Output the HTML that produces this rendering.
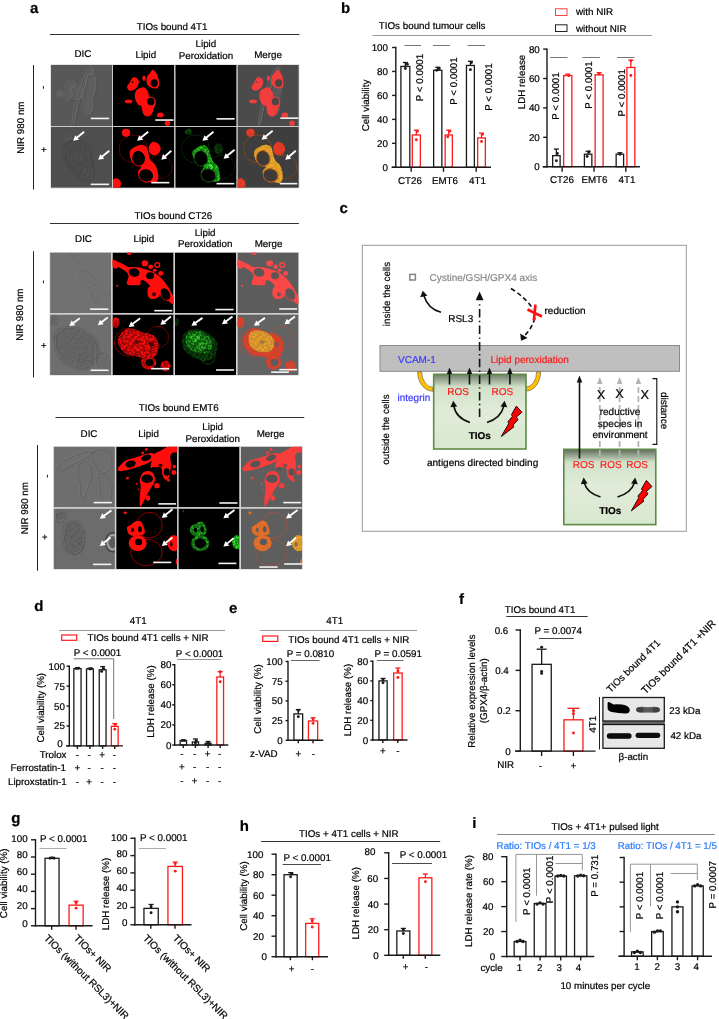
<!DOCTYPE html>
<html><head><meta charset="utf-8"><title>Figure</title>
<style>
html,body{margin:0;padding:0;background:#fff;}
body{width:719px;height:1019px;overflow:hidden;}
svg{display:block;will-change:transform;text-rendering:geometricPrecision;font-family:"Liberation Sans",sans-serif;font-size:9.8px;}
text{stroke-width:0.2px;}
</style></head>
<body>
<svg width="719" height="1019" viewBox="0 0 719 1019">
<rect x="0" y="0" width="719" height="1019" fill="#fff"/>
<defs>
<filter id="blur1" x="-20%" y="-20%" width="140%" height="140%"><feGaussianBlur stdDeviation="0.9"/></filter>
<filter id="bl" x="-10%" y="-10%" width="120%" height="120%"><feGaussianBlur stdDeviation="0.45"/></filter>
<filter id="bl2" x="-10%" y="-10%" width="120%" height="120%"><feGaussianBlur stdDeviation="0.9"/></filter>
<filter id="speck" x="0" y="0" width="100%" height="100%">
<feTurbulence type="fractalNoise" baseFrequency="0.45" numOctaves="3" seed="11" result="n"/>
<feColorMatrix in="n" type="matrix" values="0 0 0 0 0  0 0 0 0 0  0 0 0 0 0  0 0 0 5 -2.2" result="m"/>
<feComposite in="SourceGraphic" in2="m" operator="in" result="c"/>
<feGaussianBlur in="c" stdDeviation="0.35"/>
</filter>
<linearGradient id="gbox" x1="0" y1="0" x2="0" y2="1">
<stop offset="0" stop-color="#6e7c69"/><stop offset="0.17" stop-color="#d2e2ca"/><stop offset="0.5" stop-color="#e0ecd9"/><stop offset="1" stop-color="#d8e7d0"/>
</linearGradient>
<linearGradient id="gbox2" x1="0" y1="0" x2="0" y2="1">
<stop offset="0" stop-color="#5e6a5a"/><stop offset="0.17" stop-color="#d2e2ca"/><stop offset="0.5" stop-color="#e0ecd9"/><stop offset="1" stop-color="#d8e7d0"/>
</linearGradient>
</defs>
<text x="30.00" y="13.20" stroke="#000" font-weight="bold" font-size="15">a</text>
<text x="136.70" y="29.70" stroke="#000">TIOs bound 4T1</text>
<line x1="50.00" y1="34.50" x2="299.40" y2="34.50" stroke="#333" stroke-width="1.0"/>
<text x="82.90" y="57.00" text-anchor="middle" stroke="#000">DIC</text>
<text x="145.80" y="57.50" text-anchor="middle" stroke="#000">Lipid</text>
<text x="205.90" y="46.70" text-anchor="middle" stroke="#000">Lipid</text>
<text x="205.90" y="58.70" text-anchor="middle" stroke="#000">Peroxidation</text>
<text x="268.10" y="57.50" text-anchor="middle" stroke="#000">Merge</text>
<line x1="33.50" y1="65.10" x2="33.50" y2="189.50" stroke="#222" stroke-width="1.0"/>
<text x="0" y="0" text-anchor="middle" stroke="#000" transform="translate(24.10,127.60) rotate(-90)">NIR 980 nm</text>
<text x="0" y="0" text-anchor="middle" stroke="#000" transform="translate(46.30,87.40) rotate(-90)">-</text>
<text x="0" y="0" text-anchor="middle" stroke="#000" transform="translate(46.80,149.70) rotate(-90)">+</text>
<rect x="50.40" y="64.40" width="249.00" height="124.00" fill="#d2d2d2"/>
<clipPath id="clipa00"><rect x="0" y="0" width="61" height="61"/></clipPath>
<g transform="translate(51.00,65.00) scale(1.0049,1.0000)" clip-path="url(#clipa00)">
<rect x="0" y="0" width="61" height="61" fill="#585858"/>
<g filter="url(#bl)"><path d="M40.9 1.7 C42.1 1.4 42.8 2.8 43 4 C43.2 5.2 43.0 8.1 42 9 C41.0 9.9 38.5 7.6 37.3 9.7 C36.1 11.8 35.6 17.9 34.6 21.3 C33.6 24.7 32.2 27.2 31 30.2 C29.8 33.2 28.5 35.4 27.5 39.1 C26.5 42.8 25.6 48.9 24.8 52.4 C24.1 55.9 23.6 59.1 23 60.4 C22.4 61.7 21.0 62.6 21 60 C21.0 57.4 22.0 50.0 23 45 C24.0 40.0 25.5 35.0 27 30 C28.5 25.0 30.5 19.0 32 15 C33.5 11.0 34.5 8.2 36 6 C37.5 3.8 39.7 2.0 40.9 1.7Z" fill="#636363" opacity="0.6"/><path d="M40.9 1.7 L43 4 L42 9 L37.3 9.7 L34.6 21.3 L31 30.2 L27.5 39.1 L24.8 52.4 L23 60.4 L21 60 L23 45 L27 30 L32 15 L36 6Z" fill="none" stroke="#8c8c8c" stroke-width="0.55" opacity="0.55" transform="translate(-0.4,-0.4)" stroke-linejoin="round"/><path d="M40.9 1.7 L43 4 L42 9 L37.3 9.7 L34.6 21.3 L31 30.2 L27.5 39.1 L24.8 52.4 L23 60.4 L21 60 L23 45 L27 30 L32 15 L36 6Z" fill="none" stroke="#2e2e2e" stroke-width="0.55" opacity="0.44000000000000006" transform="translate(0.4,0.4)" stroke-linejoin="round"/><path d="M36.4 10.6 C37.9 7.9 42.0 8.7 43.5 9.7 C45.0 10.7 45.1 14.1 45.3 16.8 C45.4 19.5 45.0 22.7 44.4 25.7 C43.8 28.7 42.0 31.9 41.7 34.6 C41.4 37.3 42.9 39.3 42.6 41.7 C42.3 44.1 41.3 47.4 40 48.9 C38.7 50.4 35.9 51.5 34.6 50.6 C33.3 49.7 32.3 46.2 32 43.5 C31.7 40.8 32.4 37.6 32.8 34.6 C33.2 31.6 34.0 29.7 34.6 25.7 C35.2 21.7 34.9 13.3 36.4 10.6Z" fill="#636363" opacity="0.6"/><path d="M36.4 10.6 L43.5 9.7 L45.3 16.8 L44.4 25.7 L41.7 34.6 L42.6 41.7 L40 48.9 L34.6 50.6 L32 43.5 L32.8 34.6 L34.6 25.7Z" fill="none" stroke="#8c8c8c" stroke-width="0.55" opacity="0.55" transform="translate(-0.4,-0.4)" stroke-linejoin="round"/><path d="M36.4 10.6 L43.5 9.7 L45.3 16.8 L44.4 25.7 L41.7 34.6 L42.6 41.7 L40 48.9 L34.6 50.6 L32 43.5 L32.8 34.6 L34.6 25.7Z" fill="none" stroke="#2e2e2e" stroke-width="0.55" opacity="0.44000000000000006" transform="translate(0.4,0.4)" stroke-linejoin="round"/><path d="M25.7 19.5 C27.4 19.3 29.7 19.7 31 21 C32.3 22.3 33.7 25.3 33.7 27.5 C33.7 29.7 32.3 32.7 31 34 C29.7 35.3 27.4 35.7 25.7 35.5 C23.9 35.3 21.7 34.3 20.5 33 C19.3 31.7 18.5 29.3 18.5 27.5 C18.5 25.7 19.3 23.3 20.5 22 C21.7 20.7 23.9 19.7 25.7 19.5Z" fill="#636363" opacity="0.6"/><path d="M25.7 19.5 L31 21 L33.7 27.5 L31 34 L25.7 35.5 L20.5 33 L18.5 27.5 L20.5 22Z" fill="none" stroke="#8c8c8c" stroke-width="0.55" opacity="0.55" transform="translate(-0.4,-0.4)" stroke-linejoin="round"/><path d="M25.7 19.5 L31 21 L33.7 27.5 L31 34 L25.7 35.5 L20.5 33 L18.5 27.5 L20.5 22Z" fill="none" stroke="#2e2e2e" stroke-width="0.55" opacity="0.44000000000000006" transform="translate(0.4,0.4)" stroke-linejoin="round"/><path d="M16 17 C17.0 15.9 18.7 15.5 20 15.5 C21.3 15.5 23.2 16.1 24 17 C24.8 17.9 25.5 19.8 25 21 C24.5 22.2 21.5 22.5 21 24 C20.5 25.5 22.3 28.2 22 30 C21.7 31.8 20.2 33.8 19 35 C17.8 36.2 16.0 37.3 15 37 C14.0 36.7 13.0 34.5 13 33 C13.0 31.5 14.8 29.8 15 28 C15.2 26.2 13.8 23.8 14 22 C14.2 20.2 15.0 18.1 16 17Z" fill="#636363" opacity="0.6"/><path d="M16 17 L20 15.5 L24 17 L25 21 L21 24 L22 30 L19 35 L15 37 L13 33 L15 28 L14 22Z" fill="none" stroke="#8c8c8c" stroke-width="0.55" opacity="0.55" transform="translate(-0.4,-0.4)" stroke-linejoin="round"/><path d="M16 17 L20 15.5 L24 17 L25 21 L21 24 L22 30 L19 35 L15 37 L13 33 L15 28 L14 22Z" fill="none" stroke="#2e2e2e" stroke-width="0.55" opacity="0.44000000000000006" transform="translate(0.4,0.4)" stroke-linejoin="round"/><ellipse cx="8.8" cy="28.4" rx="3.5" ry="3.5" fill="#6a6a6a" opacity="0.6"/></g>
<rect x="39.6" y="52.65" width="18.199999999999996" height="1.6" fill="#f4f4f4"/>
</g>
<clipPath id="clipa01"><rect x="0" y="0" width="61" height="61"/></clipPath>
<g transform="translate(113.00,65.00) scale(1.0049,1.0000)" clip-path="url(#clipa01)">
<rect x="0" y="0" width="61" height="61" fill="#000"/>
<g filter="url(#bl)"><path d="M39.5 4.8 C40.5 5.0 42.5 7.3 43.5 8.8 C44.5 10.4 44.9 12.3 45.3 14.1 C45.7 15.9 45.9 18.0 45.8 19.5 C45.6 21.0 45.2 22.3 44.4 23 C43.6 23.7 42.1 23.6 40.9 23.5 C39.7 23.4 38.4 22.9 37.3 22.2 C36.2 21.5 34.9 20.7 34.2 19.5 C33.5 18.3 33.2 16.5 33.3 15 C33.4 13.5 33.9 11.8 34.6 10.6 C35.3 9.3 36.5 8.5 37.3 7.5 C38.1 6.5 38.5 4.6 39.5 4.8Z" fill="#ff0d0d"/><ellipse cx="40.9" cy="18.1" rx="3.8" ry="4.1" fill="#000"/><ellipse cx="40.9" cy="18.1" rx="4.1" ry="4.4" fill="none" stroke="#ff0d0d" stroke-width="0.7"/><path d="M19.9 12.4 C20.9 12.2 22.9 12.5 23.9 13.2 C24.9 13.9 25.6 15.5 25.7 16.8 C25.8 18.2 25.0 20.1 24.4 21.3 C23.8 22.5 23.2 23.2 22.2 23.9 C21.1 24.6 19.3 25.6 18.1 25.7 C16.9 25.8 15.7 25.1 15 24.4 C14.3 23.7 13.9 22.4 14.1 21.3 C14.3 20.2 15.7 19.2 16.4 18.1 C17.1 17.0 17.5 15.6 18.1 14.6 C18.7 13.6 18.9 12.6 19.9 12.4Z" fill="#ff0d0d"/><ellipse cx="30.8" cy="13.2" rx="1.6" ry="2.8" fill="#ff0d0d"/><path d="M23 25.7 C24.1 24.3 26.9 23.1 28.4 22.6 C29.9 22.2 30.9 22.2 32 23 C33.1 23.8 34.5 25.9 35.1 27.5 C35.7 29.1 35.6 31.0 35.5 32.8 C35.4 34.6 35.1 36.9 34.2 38.2 C33.3 39.6 31.6 40.6 30.2 40.9 C28.8 41.2 26.9 40.8 25.7 40 C24.5 39.2 23.7 37.9 23 36.4 C22.3 34.9 21.7 32.9 21.7 31.1 C21.7 29.3 21.9 27.1 23 25.7Z" fill="#ff0d0d"/><path d="M28.4 39.1 C28.8 37.6 30.0 35.8 31 34.6 C32.0 33.4 33.3 32.4 34.6 32 C35.9 31.6 37.4 31.7 38.6 32.1 C39.8 32.5 41.0 33.2 41.7 34.2 C42.4 35.2 42.7 36.8 42.6 38.2 C42.5 39.6 41.4 41.1 40.9 42.6 C40.4 44.1 40.1 45.8 39.5 47.1 C38.9 48.4 38.3 49.9 37.3 50.6 C36.3 51.3 34.9 51.8 33.7 51.5 C32.5 51.2 31.0 50.2 30.2 48.9 C29.4 47.6 29.1 45.1 28.8 43.5 C28.5 41.9 28.0 40.6 28.4 39.1Z" fill="#ff0d0d"/><ellipse cx="37.7" cy="36.6" rx="3.8" ry="4" fill="#000"/><ellipse cx="37.7" cy="36.6" rx="4.1" ry="4.3" fill="none" stroke="#ff0d0d" stroke-width="0.6"/><ellipse cx="15.5" cy="36.4" rx="3.8" ry="1.9" fill="#ff0d0d"/><ellipse cx="47.1" cy="49.9" rx="3.4" ry="2.5" fill="#ff0d0d"/><ellipse cx="54.2" cy="58.2" rx="2.7" ry="2.6" fill="#ff0d0d"/><ellipse cx="19.5" cy="17" rx="1" ry="1" fill="#000" opacity="0.7"/></g>
<rect x="42.1" y="54.25" width="18.1" height="1.6" fill="#f4f4f4"/>
</g>
<clipPath id="clipa02"><rect x="0" y="0" width="61" height="61"/></clipPath>
<g transform="translate(175.30,65.00) scale(1.0049,1.0000)" clip-path="url(#clipa02)">
<rect x="0" y="0" width="61" height="61" fill="#000"/>
<rect x="41.0" y="53.05" width="18.1" height="1.6" fill="#f4f4f4"/>
</g>
<clipPath id="clipa03"><rect x="0" y="0" width="61" height="61"/></clipPath>
<g transform="translate(237.50,65.00) scale(1.0049,1.0000)" clip-path="url(#clipa03)">
<rect x="0" y="0" width="61" height="61" fill="#4b4b4b"/>
<g filter="url(#bl)"><path d="M40.9 1.7 C42.1 1.4 42.8 2.8 43 4 C43.2 5.2 43.0 8.1 42 9 C41.0 9.9 38.5 7.6 37.3 9.7 C36.1 11.8 35.6 17.9 34.6 21.3 C33.6 24.7 32.2 27.2 31 30.2 C29.8 33.2 28.5 35.4 27.5 39.1 C26.5 42.8 25.6 48.9 24.8 52.4 C24.1 55.9 23.6 59.1 23 60.4 C22.4 61.7 21.0 62.6 21 60 C21.0 57.4 22.0 50.0 23 45 C24.0 40.0 25.5 35.0 27 30 C28.5 25.0 30.5 19.0 32 15 C33.5 11.0 34.5 8.2 36 6 C37.5 3.8 39.7 2.0 40.9 1.7Z" fill="#636363" opacity="0.6"/><path d="M40.9 1.7 L43 4 L42 9 L37.3 9.7 L34.6 21.3 L31 30.2 L27.5 39.1 L24.8 52.4 L23 60.4 L21 60 L23 45 L27 30 L32 15 L36 6Z" fill="none" stroke="#8c8c8c" stroke-width="0.55" opacity="0.55" transform="translate(-0.4,-0.4)" stroke-linejoin="round"/><path d="M40.9 1.7 L43 4 L42 9 L37.3 9.7 L34.6 21.3 L31 30.2 L27.5 39.1 L24.8 52.4 L23 60.4 L21 60 L23 45 L27 30 L32 15 L36 6Z" fill="none" stroke="#2e2e2e" stroke-width="0.55" opacity="0.44000000000000006" transform="translate(0.4,0.4)" stroke-linejoin="round"/><path d="M36.4 10.6 C37.9 7.9 42.0 8.7 43.5 9.7 C45.0 10.7 45.1 14.1 45.3 16.8 C45.4 19.5 45.0 22.7 44.4 25.7 C43.8 28.7 42.0 31.9 41.7 34.6 C41.4 37.3 42.9 39.3 42.6 41.7 C42.3 44.1 41.3 47.4 40 48.9 C38.7 50.4 35.9 51.5 34.6 50.6 C33.3 49.7 32.3 46.2 32 43.5 C31.7 40.8 32.4 37.6 32.8 34.6 C33.2 31.6 34.0 29.7 34.6 25.7 C35.2 21.7 34.9 13.3 36.4 10.6Z" fill="#636363" opacity="0.6"/><path d="M39.5 4.8 C40.5 5.0 42.5 7.3 43.5 8.8 C44.5 10.4 44.9 12.3 45.3 14.1 C45.7 15.9 45.9 18.0 45.8 19.5 C45.6 21.0 45.2 22.3 44.4 23 C43.6 23.7 42.1 23.6 40.9 23.5 C39.7 23.4 38.4 22.9 37.3 22.2 C36.2 21.5 34.9 20.7 34.2 19.5 C33.5 18.3 33.2 16.5 33.3 15 C33.4 13.5 33.9 11.8 34.6 10.6 C35.3 9.3 36.5 8.5 37.3 7.5 C38.1 6.5 38.5 4.6 39.5 4.8Z" fill="#f23c3c"/><ellipse cx="40.9" cy="18.1" rx="3.8" ry="4.1" fill="#4b4545"/><ellipse cx="40.9" cy="18.1" rx="4.1" ry="4.4" fill="none" stroke="#f23c3c" stroke-width="0.7"/><path d="M19.9 12.4 C20.9 12.2 22.9 12.5 23.9 13.2 C24.9 13.9 25.6 15.5 25.7 16.8 C25.8 18.2 25.0 20.1 24.4 21.3 C23.8 22.5 23.2 23.2 22.2 23.9 C21.1 24.6 19.3 25.6 18.1 25.7 C16.9 25.8 15.7 25.1 15 24.4 C14.3 23.7 13.9 22.4 14.1 21.3 C14.3 20.2 15.7 19.2 16.4 18.1 C17.1 17.0 17.5 15.6 18.1 14.6 C18.7 13.6 18.9 12.6 19.9 12.4Z" fill="#f23c3c"/><ellipse cx="30.8" cy="13.2" rx="1.6" ry="2.8" fill="#f23c3c"/><path d="M23 25.7 C24.1 24.3 26.9 23.1 28.4 22.6 C29.9 22.2 30.9 22.2 32 23 C33.1 23.8 34.5 25.9 35.1 27.5 C35.7 29.1 35.6 31.0 35.5 32.8 C35.4 34.6 35.1 36.9 34.2 38.2 C33.3 39.6 31.6 40.6 30.2 40.9 C28.8 41.2 26.9 40.8 25.7 40 C24.5 39.2 23.7 37.9 23 36.4 C22.3 34.9 21.7 32.9 21.7 31.1 C21.7 29.3 21.9 27.1 23 25.7Z" fill="#f23c3c"/><path d="M28.4 39.1 C28.8 37.6 30.0 35.8 31 34.6 C32.0 33.4 33.3 32.4 34.6 32 C35.9 31.6 37.4 31.7 38.6 32.1 C39.8 32.5 41.0 33.2 41.7 34.2 C42.4 35.2 42.7 36.8 42.6 38.2 C42.5 39.6 41.4 41.1 40.9 42.6 C40.4 44.1 40.1 45.8 39.5 47.1 C38.9 48.4 38.3 49.9 37.3 50.6 C36.3 51.3 34.9 51.8 33.7 51.5 C32.5 51.2 31.0 50.2 30.2 48.9 C29.4 47.6 29.1 45.1 28.8 43.5 C28.5 41.9 28.0 40.6 28.4 39.1Z" fill="#f23c3c"/><ellipse cx="37.7" cy="36.6" rx="3.8" ry="4" fill="#4b4545"/><ellipse cx="37.7" cy="36.6" rx="4.1" ry="4.3" fill="none" stroke="#f23c3c" stroke-width="0.6"/><ellipse cx="15.5" cy="36.4" rx="3.8" ry="1.9" fill="#f23c3c"/><ellipse cx="47.1" cy="49.9" rx="3.4" ry="2.5" fill="#f23c3c"/><ellipse cx="54.2" cy="58.2" rx="2.7" ry="2.6" fill="#f23c3c"/><ellipse cx="19.5" cy="17" rx="1" ry="1" fill="#4b4545" opacity="0.7"/></g>
<rect x="42.6" y="52.35" width="18.1" height="1.6" fill="#f4f4f4"/>
</g>
<clipPath id="clipa10"><rect x="0" y="0" width="61" height="61"/></clipPath>
<g transform="translate(51.00,126.80) scale(1.0049,1.0000)" clip-path="url(#clipa10)">
<rect x="0" y="0" width="61" height="61" fill="#4e4e4e"/>
<g filter="url(#bl)"><path d="M18 14 C20.3 12.7 25.0 11.7 28 12 C31.0 12.3 34.0 14.0 36 16 C38.0 18.0 39.7 21.3 40 24 C40.3 26.7 37.7 29.3 38 32 C38.3 34.7 41.3 37.0 42 40 C42.7 43.0 43.0 47.5 42 50 C41.0 52.5 38.3 54.7 36 55 C33.7 55.3 30.0 53.8 28 52 C26.0 50.2 25.7 46.3 24 44 C22.3 41.7 19.7 40.3 18 38 C16.3 35.7 14.7 33.0 14 30 C13.3 27.0 13.3 22.7 14 20 C14.7 17.3 15.7 15.3 18 14Z" fill="#535353" opacity="0.6"/><path d="M18 14 L28 12 L36 16 L40 24 L38 32 L42 40 L42 50 L36 55 L28 52 L24 44 L18 38 L14 30 L14 20Z" fill="none" stroke="#767676" stroke-width="0.55" opacity="0.5" transform="translate(-0.4,-0.4)" stroke-linejoin="round"/><path d="M18 14 L28 12 L36 16 L40 24 L38 32 L42 40 L42 50 L36 55 L28 52 L24 44 L18 38 L14 30 L14 20Z" fill="none" stroke="#2a2a2a" stroke-width="0.55" opacity="0.4" transform="translate(0.4,0.4)" stroke-linejoin="round"/><path d="M22 24 C23.2 22.3 26.2 21.5 28 22 C29.8 22.5 32.3 25.0 33 27 C33.7 29.0 33.2 32.5 32 34 C30.8 35.5 27.8 36.3 26 36 C24.2 35.7 21.7 34.0 21 32 C20.3 30.0 20.8 25.7 22 24Z" fill="#535353" opacity="0.6"/><path d="M22 24 L28 22 L33 27 L32 34 L26 36 L21 32Z" fill="none" stroke="#767676" stroke-width="0.55" opacity="0.5" transform="translate(-0.4,-0.4)" stroke-linejoin="round"/><path d="M22 24 L28 22 L33 27 L32 34 L26 36 L21 32Z" fill="none" stroke="#2a2a2a" stroke-width="0.55" opacity="0.4" transform="translate(0.4,0.4)" stroke-linejoin="round"/><path d="M28 42 C28.5 40.2 32.2 39.5 34 40 C35.8 40.5 38.5 43.2 39 45 C39.5 46.8 38.3 50.0 37 51 C35.7 52.0 32.5 52.5 31 51 C29.5 49.5 27.5 43.8 28 42Z" fill="#535353" opacity="0.6"/><path d="M28 42 L34 40 L39 45 L37 51 L31 51Z" fill="none" stroke="#767676" stroke-width="0.55" opacity="0.5" transform="translate(-0.4,-0.4)" stroke-linejoin="round"/><path d="M28 42 L34 40 L39 45 L37 51 L31 51Z" fill="none" stroke="#2a2a2a" stroke-width="0.55" opacity="0.4" transform="translate(0.4,0.4)" stroke-linejoin="round"/><path d="M10 8 C11.0 6.5 15.0 4.7 17 5 C19.0 5.3 21.8 8.3 22 10 C22.2 11.7 19.8 14.3 18 15 C16.2 15.7 12.3 15.2 11 14 C9.7 12.8 9.0 9.5 10 8Z" fill="#535353" opacity="0.6"/><path d="M10 8 L17 5 L22 10 L18 15 L11 14Z" fill="none" stroke="#767676" stroke-width="0.55" opacity="0.5" transform="translate(-0.4,-0.4)" stroke-linejoin="round"/><path d="M10 8 L17 5 L22 10 L18 15 L11 14Z" fill="none" stroke="#2a2a2a" stroke-width="0.55" opacity="0.4" transform="translate(0.4,0.4)" stroke-linejoin="round"/></g>
<g filter="url(#bl)" opacity="0.15"><path d="M14 16 C16.0 13.7 20.7 12.3 24 12 C27.3 11.7 31.3 12.3 34 14 C36.7 15.7 38.7 18.7 40 22 C41.3 25.3 41.3 30.0 42 34 C42.7 38.0 44.3 42.7 44 46 C43.7 49.3 42.3 52.7 40 54 C37.7 55.3 33.0 55.3 30 54 C27.0 52.7 24.7 49.0 22 46 C19.3 43.0 15.7 39.3 14 36 C12.3 32.7 12.0 29.3 12 26 C12.0 22.7 12.0 18.3 14 16Z" fill="#3c3c3c"/></g>
<g filter="url(#speck)" opacity="0.3"><path d="M14 16 C16.0 13.7 20.7 12.3 24 12 C27.3 11.7 31.3 12.3 34 14 C36.7 15.7 38.7 18.7 40 22 C41.3 25.3 41.3 30.0 42 34 C42.7 38.0 44.3 42.7 44 46 C43.7 49.3 42.3 52.7 40 54 C37.7 55.3 33.0 55.3 30 54 C27.0 52.7 24.7 49.0 22 46 C19.3 43.0 15.7 39.3 14 36 C12.3 32.7 12.0 29.3 12 26 C12.0 22.7 12.0 18.3 14 16Z" fill="#3c3c3c"/></g>
<line x1="33" y1="5" x2="25.64" y2="11.02" stroke="#fff" stroke-width="1.9"/><path d="M22 14 L24.12 8.39 L27.92 13.03 Z" fill="#fff"/>
<line x1="58" y1="24" x2="50.64" y2="30.02" stroke="#fff" stroke-width="1.9"/><path d="M47 33 L49.12 27.39 L52.92 32.03 Z" fill="#fff"/>
<rect x="39.6" y="56.75" width="18.199999999999996" height="1.6" fill="#f4f4f4"/>
</g>
<clipPath id="clipa11"><rect x="0" y="0" width="61" height="61"/></clipPath>
<g transform="translate(113.00,126.80) scale(1.0049,1.0000)" clip-path="url(#clipa11)">
<rect x="0" y="0" width="61" height="61" fill="#000"/>
<g filter="url(#bl)"><ellipse cx="20" cy="22" rx="14" ry="14" fill="none" stroke="#ff0d0d" stroke-width="0.6" opacity="0.55"/><ellipse cx="47" cy="40" rx="12" ry="12" fill="none" stroke="#ff0d0d" stroke-width="0.6" opacity="0.55"/><ellipse cx="13" cy="6" rx="4.2" ry="4" fill="#ff0d0d"/><path d="M40 15 C41.5 14.7 43.8 15.8 45 17 C46.2 18.2 47.5 20.3 47.5 22 C47.5 23.7 46.2 25.9 45 27 C43.8 28.1 41.5 28.8 40 28.5 C38.5 28.2 36.7 26.6 36 25 C35.3 23.4 35.3 20.7 36 19 C36.7 17.3 38.5 15.3 40 15Z" fill="#ff0d0d"/><ellipse cx="3" cy="57" rx="5" ry="5.5" fill="#ff0d0d"/><path d="M17 24 C17.8 22.3 20.2 21.0 22 20 C23.8 19.0 26.2 18.0 28 18 C29.8 18.0 31.8 18.5 33 20 C34.2 21.5 34.8 24.8 35.5 27 C36.2 29.2 35.9 31.2 37 33 C38.1 34.8 40.8 36.0 42 38 C43.2 40.0 44.0 42.7 44.5 45 C45.0 47.3 45.4 50.2 45 52 C44.6 53.8 43.5 55.5 42 56 C40.5 56.5 38.3 55.7 36 55 C33.7 54.3 29.8 53.7 28 52 C26.2 50.3 25.0 47.0 25 45 C25.0 43.0 28.8 41.5 28 40 C27.2 38.5 21.8 37.7 20 36 C18.2 34.3 17.5 32.0 17 30 C16.5 28.0 16.2 25.7 17 24Z" fill="#ff0d0d"/><ellipse cx="25.5" cy="31.5" rx="6.5" ry="7.5" fill="#000" transform="rotate(-15 25.5 31.5)"/><ellipse cx="25.5" cy="31.5" rx="6.9" ry="7.9" fill="none" stroke="#ff0d0d" stroke-width="0.8" transform="rotate(-15 25.5 31.5)"/><ellipse cx="33" cy="48.5" rx="7.2" ry="6.2" fill="#000" transform="rotate(20 33 48.5)"/><ellipse cx="33" cy="48.5" rx="7.6" ry="6.6" fill="none" stroke="#ff0d0d" stroke-width="0.9" transform="rotate(20 33 48.5)"/></g>
<line x1="35" y1="5" x2="27.64" y2="11.02" stroke="#fff" stroke-width="1.9"/><path d="M24 14 L26.12 8.39 L29.92 13.03 Z" fill="#fff"/>
<line x1="58" y1="24" x2="51.49" y2="29.86" stroke="#fff" stroke-width="1.9"/><path d="M48 33 L49.86 27.29 L53.87 31.75 Z" fill="#fff"/>
<rect x="38.1" y="55.05" width="18.0" height="1.6" fill="#f4f4f4"/>
</g>
<clipPath id="clipa12"><rect x="0" y="0" width="61" height="61"/></clipPath>
<g transform="translate(175.30,126.80) scale(1.0049,1.0000)" clip-path="url(#clipa12)">
<rect x="0" y="0" width="61" height="61" fill="#000"/>
<g filter="url(#bl)" opacity="0.6"><ellipse cx="13" cy="5" rx="3.5" ry="3.2" fill="#0f4a0f"/><ellipse cx="43" cy="22" rx="4.5" ry="5.5" fill="#0f3d0f"/><ellipse cx="20" cy="22" rx="14" ry="14" fill="none" stroke="#0f3d0f" stroke-width="0.6"/><ellipse cx="47" cy="40" rx="12" ry="12" fill="none" stroke="#0f3d0f" stroke-width="0.6"/><path d="M17 25 C17.7 23.4 20.2 21.6 22 20.5 C23.8 19.4 26.3 18.5 28 18.5 C29.7 18.5 30.8 18.9 32 20.5 C33.2 22.1 34.2 25.8 35 28 C35.8 30.2 35.8 32.2 37 34 C38.2 35.8 40.8 37.0 42 39 C43.2 41.0 43.6 43.7 44 46 C44.4 48.3 45.0 51.5 44.5 53 C44.0 54.5 42.4 54.8 41 55 C39.6 55.2 38.2 54.7 36 54 C33.8 53.3 29.7 52.5 28 51 C26.3 49.5 26.0 46.8 26 45 C26.0 43.2 28.8 41.7 28 40 C27.2 38.3 22.7 36.7 21 35 C19.3 33.3 18.7 31.7 18 30 C17.3 28.3 16.3 26.6 17 25Z" fill="#22c81e"/><ellipse cx="25.5" cy="31.5" rx="6.5" ry="7.5" fill="#000" transform="rotate(-15 25.5 31.5)"/><ellipse cx="25.5" cy="31.5" rx="6.9" ry="7.9" fill="none" stroke="#1c7a1c" stroke-width="0.7" transform="rotate(-15 25.5 31.5)"/><ellipse cx="33" cy="48.5" rx="7.2" ry="6.2" fill="#000" transform="rotate(20 33 48.5)"/><ellipse cx="33" cy="48.5" rx="7.6" ry="6.6" fill="none" stroke="#1c7a1c" stroke-width="0.8" transform="rotate(20 33 48.5)"/><ellipse cx="35.5" cy="40" rx="2" ry="2" fill="#5cff4a"/></g>
<g filter="url(#speck)" opacity="1.0"><ellipse cx="13" cy="5" rx="3.5" ry="3.2" fill="#0f4a0f"/><ellipse cx="43" cy="22" rx="4.5" ry="5.5" fill="#0f3d0f"/><ellipse cx="20" cy="22" rx="14" ry="14" fill="none" stroke="#0f3d0f" stroke-width="0.6"/><ellipse cx="47" cy="40" rx="12" ry="12" fill="none" stroke="#0f3d0f" stroke-width="0.6"/><path d="M17 25 C17.7 23.4 20.2 21.6 22 20.5 C23.8 19.4 26.3 18.5 28 18.5 C29.7 18.5 30.8 18.9 32 20.5 C33.2 22.1 34.2 25.8 35 28 C35.8 30.2 35.8 32.2 37 34 C38.2 35.8 40.8 37.0 42 39 C43.2 41.0 43.6 43.7 44 46 C44.4 48.3 45.0 51.5 44.5 53 C44.0 54.5 42.4 54.8 41 55 C39.6 55.2 38.2 54.7 36 54 C33.8 53.3 29.7 52.5 28 51 C26.3 49.5 26.0 46.8 26 45 C26.0 43.2 28.8 41.7 28 40 C27.2 38.3 22.7 36.7 21 35 C19.3 33.3 18.7 31.7 18 30 C17.3 28.3 16.3 26.6 17 25Z" fill="#22c81e"/><ellipse cx="25.5" cy="31.5" rx="6.5" ry="7.5" fill="#000" transform="rotate(-15 25.5 31.5)"/><ellipse cx="25.5" cy="31.5" rx="6.9" ry="7.9" fill="none" stroke="#1c7a1c" stroke-width="0.7" transform="rotate(-15 25.5 31.5)"/><ellipse cx="33" cy="48.5" rx="7.2" ry="6.2" fill="#000" transform="rotate(20 33 48.5)"/><ellipse cx="33" cy="48.5" rx="7.6" ry="6.6" fill="none" stroke="#1c7a1c" stroke-width="0.8" transform="rotate(20 33 48.5)"/><ellipse cx="35.5" cy="40" rx="2" ry="2" fill="#5cff4a"/></g>
<line x1="38" y1="5" x2="30.64" y2="11.02" stroke="#fff" stroke-width="1.9"/><path d="M27 14 L29.12 8.39 L32.92 13.03 Z" fill="#fff"/>
<line x1="59" y1="23" x2="51.64" y2="29.02" stroke="#fff" stroke-width="1.9"/><path d="M48 32 L50.12 26.39 L53.92 31.03 Z" fill="#fff"/>
<rect x="41.0" y="56.05" width="17.700000000000003" height="1.6" fill="#f4f4f4"/>
</g>
<clipPath id="clipa13"><rect x="0" y="0" width="61" height="61"/></clipPath>
<g transform="translate(237.50,126.80) scale(1.0049,1.0000)" clip-path="url(#clipa13)">
<rect x="0" y="0" width="61" height="61" fill="#3e3e3e"/>
<g filter="url(#bl)" opacity="0.85"><ellipse cx="20" cy="22" rx="14" ry="14" fill="none" stroke="#c85a18" stroke-width="0.6" opacity="0.55"/><ellipse cx="47" cy="40" rx="12" ry="12" fill="none" stroke="#c85a18" stroke-width="0.6" opacity="0.55"/><ellipse cx="13" cy="6" rx="4.2" ry="4" fill="#f03a22"/><path d="M40 15 C41.5 14.7 43.8 15.8 45 17 C46.2 18.2 47.5 20.3 47.5 22 C47.5 23.7 46.2 25.9 45 27 C43.8 28.1 41.5 28.8 40 28.5 C38.5 28.2 36.7 26.6 36 25 C35.3 23.4 35.3 20.7 36 19 C36.7 17.3 38.5 15.3 40 15Z" fill="#f03a22"/><ellipse cx="3" cy="57" rx="5" ry="5.5" fill="#f03a22"/><path d="M17 24 C17.8 22.3 20.2 21.0 22 20 C23.8 19.0 26.2 18.0 28 18 C29.8 18.0 31.8 18.5 33 20 C34.2 21.5 34.8 24.8 35.5 27 C36.2 29.2 35.9 31.2 37 33 C38.1 34.8 40.8 36.0 42 38 C43.2 40.0 44.0 42.7 44.5 45 C45.0 47.3 45.4 50.2 45 52 C44.6 53.8 43.5 55.5 42 56 C40.5 56.5 38.3 55.7 36 55 C33.7 54.3 29.8 53.7 28 52 C26.2 50.3 25.0 47.0 25 45 C25.0 43.0 28.8 41.5 28 40 C27.2 38.5 21.8 37.7 20 36 C18.2 34.3 17.5 32.0 17 30 C16.5 28.0 16.2 25.7 17 24Z" fill="#f0a825"/><ellipse cx="25.5" cy="31.5" rx="6.5" ry="7.5" fill="#3c3a38" transform="rotate(-15 25.5 31.5)"/><ellipse cx="25.5" cy="31.5" rx="6.9" ry="7.9" fill="none" stroke="#c85a18" stroke-width="0.8" transform="rotate(-15 25.5 31.5)"/><ellipse cx="33" cy="48.5" rx="7.2" ry="6.2" fill="#3c3a38" transform="rotate(20 33 48.5)"/><ellipse cx="33" cy="48.5" rx="7.6" ry="6.6" fill="none" stroke="#c85a18" stroke-width="0.9" transform="rotate(20 33 48.5)"/></g>
<g filter="url(#speck)" opacity="1.0"><ellipse cx="20" cy="22" rx="14" ry="14" fill="none" stroke="#c85a18" stroke-width="0.6" opacity="0.55"/><ellipse cx="47" cy="40" rx="12" ry="12" fill="none" stroke="#c85a18" stroke-width="0.6" opacity="0.55"/><ellipse cx="13" cy="6" rx="4.2" ry="4" fill="#f03a22"/><path d="M40 15 C41.5 14.7 43.8 15.8 45 17 C46.2 18.2 47.5 20.3 47.5 22 C47.5 23.7 46.2 25.9 45 27 C43.8 28.1 41.5 28.8 40 28.5 C38.5 28.2 36.7 26.6 36 25 C35.3 23.4 35.3 20.7 36 19 C36.7 17.3 38.5 15.3 40 15Z" fill="#f03a22"/><ellipse cx="3" cy="57" rx="5" ry="5.5" fill="#f03a22"/><path d="M17 24 C17.8 22.3 20.2 21.0 22 20 C23.8 19.0 26.2 18.0 28 18 C29.8 18.0 31.8 18.5 33 20 C34.2 21.5 34.8 24.8 35.5 27 C36.2 29.2 35.9 31.2 37 33 C38.1 34.8 40.8 36.0 42 38 C43.2 40.0 44.0 42.7 44.5 45 C45.0 47.3 45.4 50.2 45 52 C44.6 53.8 43.5 55.5 42 56 C40.5 56.5 38.3 55.7 36 55 C33.7 54.3 29.8 53.7 28 52 C26.2 50.3 25.0 47.0 25 45 C25.0 43.0 28.8 41.5 28 40 C27.2 38.5 21.8 37.7 20 36 C18.2 34.3 17.5 32.0 17 30 C16.5 28.0 16.2 25.7 17 24Z" fill="#f0a825"/><ellipse cx="25.5" cy="31.5" rx="6.5" ry="7.5" fill="#3c3a38" transform="rotate(-15 25.5 31.5)"/><ellipse cx="25.5" cy="31.5" rx="6.9" ry="7.9" fill="none" stroke="#c85a18" stroke-width="0.8" transform="rotate(-15 25.5 31.5)"/><ellipse cx="33" cy="48.5" rx="7.2" ry="6.2" fill="#3c3a38" transform="rotate(20 33 48.5)"/><ellipse cx="33" cy="48.5" rx="7.6" ry="6.6" fill="none" stroke="#c85a18" stroke-width="0.9" transform="rotate(20 33 48.5)"/></g>
<line x1="35" y1="4" x2="27.64" y2="10.02" stroke="#fff" stroke-width="1.9"/><path d="M24 13 L26.12 7.39 L29.92 12.03 Z" fill="#fff"/>
<line x1="58" y1="24" x2="51.07" y2="29.94" stroke="#fff" stroke-width="1.9"/><path d="M47.5 33 L49.50 27.34 L53.40 31.89 Z" fill="#fff"/>
<rect x="42.0" y="56.05" width="17.5" height="1.6" fill="#f4f4f4"/>
</g>
<text x="134.40" y="218.60" stroke="#000">TIOs bound CT26</text>
<line x1="50.00" y1="223.50" x2="298.90" y2="223.50" stroke="#333" stroke-width="1.0"/>
<text x="83.50" y="242.00" text-anchor="middle" stroke="#000">DIC</text>
<text x="143.90" y="242.00" text-anchor="middle" stroke="#000">Lipid</text>
<text x="205.20" y="236.20" text-anchor="middle" stroke="#000">Lipid</text>
<text x="205.20" y="247.40" text-anchor="middle" stroke="#000">Peroxidation</text>
<text x="268.60" y="246.90" text-anchor="middle" stroke="#000">Merge</text>
<line x1="33.50" y1="251.20" x2="33.50" y2="377.50" stroke="#222" stroke-width="1.0"/>
<text x="0" y="0" text-anchor="middle" stroke="#000" transform="translate(23.10,314.60) rotate(-90)">NIR 980 nm</text>
<text x="0" y="0" text-anchor="middle" stroke="#000" transform="translate(46.10,281.80) rotate(-90)">-</text>
<text x="0" y="0" text-anchor="middle" stroke="#000" transform="translate(46.90,345.50) rotate(-90)">+</text>
<rect x="49.50" y="252.00" width="249.60" height="123.60" fill="#d2d2d2"/>
<clipPath id="clipb00"><rect x="0" y="0" width="61" height="61"/></clipPath>
<g transform="translate(50.10,252.60) scale(1.0016,0.9934)" clip-path="url(#clipb00)">
<rect x="0" y="0" width="61" height="61" fill="#717171"/>
<g filter="url(#bl)"><path d="M20 0 L30 18 L38 28 L50 38 L61 44Z" fill="none" stroke="#8e8e8e" stroke-width="0.55" opacity="0.5" transform="translate(-0.4,-0.4)" stroke-linejoin="round"/><path d="M20 0 L30 18 L38 28 L50 38 L61 44Z" fill="none" stroke="#3a3a3a" stroke-width="0.55" opacity="0.4" transform="translate(0.4,0.4)" stroke-linejoin="round"/><path d="M28 20 L34 17 L42 24 L44 32 L38 34 L32 28Z" fill="none" stroke="#8e8e8e" stroke-width="0.55" opacity="0.5" transform="translate(-0.4,-0.4)" stroke-linejoin="round"/><path d="M28 20 L34 17 L42 24 L44 32 L38 34 L32 28Z" fill="none" stroke="#3a3a3a" stroke-width="0.55" opacity="0.4" transform="translate(0.4,0.4)" stroke-linejoin="round"/><path d="M40 40 L44 36 L48 44 L44 50Z" fill="none" stroke="#8e8e8e" stroke-width="0.55" opacity="0.5" transform="translate(-0.4,-0.4)" stroke-linejoin="round"/><path d="M40 40 L44 36 L48 44 L44 50Z" fill="none" stroke="#3a3a3a" stroke-width="0.55" opacity="0.4" transform="translate(0.4,0.4)" stroke-linejoin="round"/></g>
<rect x="39.9" y="56.15" width="18.200000000000003" height="1.6" fill="#f4f4f4"/>
</g>
<clipPath id="clipb01"><rect x="0" y="0" width="61" height="61"/></clipPath>
<g transform="translate(112.50,252.60) scale(1.0016,0.9934)" clip-path="url(#clipb01)">
<rect x="0" y="0" width="61" height="61" fill="#000"/>
<g filter="url(#bl)"><path d="M-1 6.7 C-0.2 6.0 2.1 7.7 4 8.5 C5.9 9.3 8.5 10.6 10.5 11.6 C12.5 12.6 14.1 14.1 15.8 14.6 C17.6 15.1 19.2 14.5 21 14.6 C22.8 14.7 24.4 14.7 26.5 15.1 C28.6 15.5 31.2 16.1 33.6 16.9 C36.0 17.6 38.3 18.3 40.7 19.6 C43.1 20.9 45.8 23.0 47.9 24.9 C50.0 26.8 51.6 28.9 53.2 31.1 C54.8 33.3 56.4 35.9 57.7 38.3 C59.0 40.7 60.5 43.1 61 45.4 C61.5 47.7 61.9 51.4 61 52 C60.1 52.6 57.8 50.2 55.9 49 C54.0 47.8 51.5 46.0 49.6 44.5 C47.7 43.0 46.1 41.5 44.3 40 C42.5 38.5 40.5 37.1 39 35.6 C37.5 34.1 36.9 32.4 35.4 31.1 C33.9 29.8 31.5 27.8 30.1 27.6 C28.7 27.4 28.0 29.2 27 30 C26.0 30.8 25.5 32.1 24 32.5 C22.5 32.9 19.5 33.1 18 32.5 C16.5 31.9 15.3 30.4 15 29 C14.7 27.6 16.2 25.6 16 24 C15.8 22.4 15.2 20.9 14 19.6 C12.8 18.3 10.5 17.1 8.7 16 C6.9 14.9 4.9 13.9 3.3 13.3 C1.7 12.7 -0.3 13.5 -1 12.4 C-1.7 11.3 -1.8 7.4 -1 6.7Z" fill="#ff0d0d"/><ellipse cx="2.9" cy="12.9" rx="3.1" ry="3.1" fill="#ff0d0d"/><ellipse cx="21.6" cy="20" rx="5.6" ry="4.4" fill="#000" transform="rotate(15 21.6 20)"/><ellipse cx="21.6" cy="20" rx="5.9" ry="4.7" fill="none" stroke="#ff0d0d" stroke-width="0.6" transform="rotate(15 21.6 20)"/><ellipse cx="37.6" cy="23.3" rx="4" ry="3.5" fill="#000"/><ellipse cx="52.8" cy="41.8" rx="4.5" ry="6.5" fill="#000" transform="rotate(-30 52.8 41.8)"/><ellipse cx="52.8" cy="41.8" rx="4.8" ry="6.8" fill="none" stroke="#ff0d0d" stroke-width="0.7" transform="rotate(-30 52.8 41.8)"/><path d="M36 35 C37.0 33.7 39.5 33.5 41 34 C42.5 34.5 44.0 36.5 45 38 C46.0 39.5 47.2 41.7 47 43 C46.8 44.3 45.5 45.4 44 46 C42.5 46.6 39.5 47.2 38 46.5 C36.5 45.8 35.3 43.9 35 42 C34.7 40.1 35.0 36.3 36 35Z" fill="#ff0d0d"/><ellipse cx="41.5" cy="42" rx="2" ry="2" fill="#000" opacity="0.8"/><ellipse cx="16.7" cy="30.3" rx="2.5" ry="2.5" fill="#ff0d0d"/><ellipse cx="25.6" cy="30.7" rx="2.6" ry="2.3" fill="#ff0d0d"/><ellipse cx="32.3" cy="10.7" rx="3.3" ry="3.1" fill="#ff0d0d"/><ellipse cx="38.1" cy="14.2" rx="2.5" ry="2.3" fill="#ff0d0d"/><ellipse cx="44.7" cy="12.4" rx="2.3" ry="2.3" fill="none" stroke="#ff0d0d" stroke-width="1.4"/><ellipse cx="48.3" cy="20.9" rx="2.5" ry="2.5" fill="#ff0d0d"/><ellipse cx="42.1" cy="17.8" rx="2" ry="1.6" fill="#ff0d0d"/><ellipse cx="16.7" cy="0.4" rx="2.5" ry="2" fill="#ff0d0d"/><ellipse cx="4.7" cy="33.4" rx="1" ry="1" fill="#ff0d0d"/></g>
<rect x="41.7" y="57.65" width="18.0" height="1.6" fill="#f4f4f4"/>
</g>
<clipPath id="clipb02"><rect x="0" y="0" width="61" height="61"/></clipPath>
<g transform="translate(174.90,252.60) scale(1.0016,0.9934)" clip-path="url(#clipb02)">
<rect x="0" y="0" width="61" height="61" fill="#000"/>
<rect x="40.4" y="56.55" width="18.200000000000003" height="1.6" fill="#f4f4f4"/>
</g>
<clipPath id="clipb03"><rect x="0" y="0" width="61" height="61"/></clipPath>
<g transform="translate(237.40,252.60) scale(1.0016,0.9934)" clip-path="url(#clipb03)">
<rect x="0" y="0" width="61" height="61" fill="#5c5c5c"/>
<g filter="url(#bl)"><path d="M-1 6.7 C-0.2 6.0 2.1 7.7 4 8.5 C5.9 9.3 8.5 10.6 10.5 11.6 C12.5 12.6 14.1 14.1 15.8 14.6 C17.6 15.1 19.2 14.5 21 14.6 C22.8 14.7 24.4 14.7 26.5 15.1 C28.6 15.5 31.2 16.1 33.6 16.9 C36.0 17.6 38.3 18.3 40.7 19.6 C43.1 20.9 45.8 23.0 47.9 24.9 C50.0 26.8 51.6 28.9 53.2 31.1 C54.8 33.3 56.4 35.9 57.7 38.3 C59.0 40.7 60.5 43.1 61 45.4 C61.5 47.7 61.9 51.4 61 52 C60.1 52.6 57.8 50.2 55.9 49 C54.0 47.8 51.5 46.0 49.6 44.5 C47.7 43.0 46.1 41.5 44.3 40 C42.5 38.5 40.5 37.1 39 35.6 C37.5 34.1 36.9 32.4 35.4 31.1 C33.9 29.8 31.5 27.8 30.1 27.6 C28.7 27.4 28.0 29.2 27 30 C26.0 30.8 25.5 32.1 24 32.5 C22.5 32.9 19.5 33.1 18 32.5 C16.5 31.9 15.3 30.4 15 29 C14.7 27.6 16.2 25.6 16 24 C15.8 22.4 15.2 20.9 14 19.6 C12.8 18.3 10.5 17.1 8.7 16 C6.9 14.9 4.9 13.9 3.3 13.3 C1.7 12.7 -0.3 13.5 -1 12.4 C-1.7 11.3 -1.8 7.4 -1 6.7Z" fill="#fa4646"/><ellipse cx="2.9" cy="12.9" rx="3.1" ry="3.1" fill="#fa4646"/><ellipse cx="21.6" cy="20" rx="5.6" ry="4.4" fill="#5c5454" transform="rotate(15 21.6 20)"/><ellipse cx="21.6" cy="20" rx="5.9" ry="4.7" fill="none" stroke="#fa4646" stroke-width="0.6" transform="rotate(15 21.6 20)"/><ellipse cx="37.6" cy="23.3" rx="4" ry="3.5" fill="#5c5454"/><ellipse cx="52.8" cy="41.8" rx="4.5" ry="6.5" fill="#5c5454" transform="rotate(-30 52.8 41.8)"/><ellipse cx="52.8" cy="41.8" rx="4.8" ry="6.8" fill="none" stroke="#fa4646" stroke-width="0.7" transform="rotate(-30 52.8 41.8)"/><path d="M36 35 C37.0 33.7 39.5 33.5 41 34 C42.5 34.5 44.0 36.5 45 38 C46.0 39.5 47.2 41.7 47 43 C46.8 44.3 45.5 45.4 44 46 C42.5 46.6 39.5 47.2 38 46.5 C36.5 45.8 35.3 43.9 35 42 C34.7 40.1 35.0 36.3 36 35Z" fill="#fa4646"/><ellipse cx="41.5" cy="42" rx="2" ry="2" fill="#5c5454" opacity="0.8"/><ellipse cx="16.7" cy="30.3" rx="2.5" ry="2.5" fill="#fa4646"/><ellipse cx="25.6" cy="30.7" rx="2.6" ry="2.3" fill="#fa4646"/><ellipse cx="32.3" cy="10.7" rx="3.3" ry="3.1" fill="#fa4646"/><ellipse cx="38.1" cy="14.2" rx="2.5" ry="2.3" fill="#fa4646"/><ellipse cx="44.7" cy="12.4" rx="2.3" ry="2.3" fill="none" stroke="#fa4646" stroke-width="1.4"/><ellipse cx="48.3" cy="20.9" rx="2.5" ry="2.5" fill="#fa4646"/><ellipse cx="42.1" cy="17.8" rx="2" ry="1.6" fill="#fa4646"/><ellipse cx="16.7" cy="0.4" rx="2.5" ry="2" fill="#fa4646"/><ellipse cx="4.7" cy="33.4" rx="1" ry="1" fill="#fa4646"/></g>
<rect x="41.8" y="55.95" width="17.800000000000004" height="1.6" fill="#f4f4f4"/>
</g>
<clipPath id="clipb10"><rect x="0" y="0" width="61" height="61"/></clipPath>
<g transform="translate(50.10,314.40) scale(1.0016,0.9934)" clip-path="url(#clipb10)">
<rect x="0" y="0" width="61" height="61" fill="#6e6e6e"/>
<g filter="url(#bl)"><path d="M6 20 C7.3 16.7 11.0 15.0 14 14 C17.0 13.0 21.0 13.3 24 14 C27.0 14.7 29.3 16.7 32 18 C34.7 19.3 37.7 20.0 40 22 C42.3 24.0 45.0 27.0 46 30 C47.0 33.0 47.0 37.3 46 40 C45.0 42.7 42.3 44.7 40 46 C37.7 47.3 35.0 48.0 32 48 C29.0 48.0 25.3 47.0 22 46 C18.7 45.0 14.7 44.0 12 42 C9.3 40.0 7.0 37.7 6 34 C5.0 30.3 4.7 23.3 6 20Z" fill="#676767" opacity="0.6"/><path d="M6 20 L14 14 L24 14 L32 18 L40 22 L46 30 L46 40 L40 46 L32 48 L22 46 L12 42 L6 34Z" fill="none" stroke="#8e8e8e" stroke-width="0.55" opacity="0.6" transform="translate(-0.4,-0.4)" stroke-linejoin="round"/><path d="M6 20 L14 14 L24 14 L32 18 L40 22 L46 30 L46 40 L40 46 L32 48 L22 46 L12 42 L6 34Z" fill="none" stroke="#3e3e3e" stroke-width="0.55" opacity="0.48" transform="translate(0.4,0.4)" stroke-linejoin="round"/><path d="M28 40 C29.5 38.3 33.7 37.3 36 38 C38.3 38.7 41.3 41.7 42 44 C42.7 46.3 41.7 50.3 40 52 C38.3 53.7 34.2 54.7 32 54 C29.8 53.3 27.7 50.3 27 48 C26.3 45.7 26.5 41.7 28 40Z" fill="#676767" opacity="0.6"/><path d="M28 40 L36 38 L42 44 L40 52 L32 54 L27 48Z" fill="none" stroke="#8e8e8e" stroke-width="0.55" opacity="0.6" transform="translate(-0.4,-0.4)" stroke-linejoin="round"/><path d="M28 40 L36 38 L42 44 L40 52 L32 54 L27 48Z" fill="none" stroke="#3e3e3e" stroke-width="0.55" opacity="0.48" transform="translate(0.4,0.4)" stroke-linejoin="round"/><path d="M46 40 C47.3 38.0 51.7 37.3 54 38 C56.3 38.7 59.3 41.3 60 44 C60.7 46.7 59.7 52.0 58 54 C56.3 56.0 52.0 56.7 50 56 C48.0 55.3 46.7 52.7 46 50 C45.3 47.3 44.7 42.0 46 40Z" fill="#676767" opacity="0.6"/><path d="M46 40 L54 38 L60 44 L58 54 L50 56 L46 50Z" fill="none" stroke="#8e8e8e" stroke-width="0.55" opacity="0.6" transform="translate(-0.4,-0.4)" stroke-linejoin="round"/><path d="M46 40 L54 38 L60 44 L58 54 L50 56 L46 50Z" fill="none" stroke="#3e3e3e" stroke-width="0.55" opacity="0.48" transform="translate(0.4,0.4)" stroke-linejoin="round"/></g>
<g filter="url(#bl)" opacity="0.15"><path d="M4 18 C5.8 15.3 10.3 13.0 14 12 C17.7 11.0 22.3 11.3 26 12 C29.7 12.7 32.7 14.0 36 16 C39.3 18.0 43.7 21.0 46 24 C48.3 27.0 49.7 30.3 50 34 C50.3 37.7 49.7 42.7 48 46 C46.3 49.3 43.3 52.3 40 54 C36.7 55.7 32.3 56.7 28 56 C23.7 55.3 17.7 52.7 14 50 C10.3 47.3 7.8 43.7 6 40 C4.2 36.3 3.3 31.7 3 28 C2.7 24.3 2.2 20.7 4 18Z" fill="#505050"/><ellipse cx="4" cy="6" rx="5" ry="6" fill="#555555"/></g>
<g filter="url(#speck)" opacity="0.3"><path d="M4 18 C5.8 15.3 10.3 13.0 14 12 C17.7 11.0 22.3 11.3 26 12 C29.7 12.7 32.7 14.0 36 16 C39.3 18.0 43.7 21.0 46 24 C48.3 27.0 49.7 30.3 50 34 C50.3 37.7 49.7 42.7 48 46 C46.3 49.3 43.3 52.3 40 54 C36.7 55.7 32.3 56.7 28 56 C23.7 55.3 17.7 52.7 14 50 C10.3 47.3 7.8 43.7 6 40 C4.2 36.3 3.3 31.7 3 28 C2.7 24.3 2.2 20.7 4 18Z" fill="#505050"/><ellipse cx="4" cy="6" rx="5" ry="6" fill="#555555"/></g>
<line x1="29.6" y1="3.9" x2="22.87" y2="8.90" stroke="#fff" stroke-width="1.9"/><path d="M19.1 11.7 L21.49 6.19 L25.06 11.01 Z" fill="#fff"/>
<line x1="57.6" y1="3" x2="51.29" y2="7.99" stroke="#fff" stroke-width="1.9"/><path d="M47.6 10.9 L49.82 5.32 L53.54 10.03 Z" fill="#fff"/>
<rect x="40.5" y="55.45" width="17.9" height="1.6" fill="#f4f4f4"/>
</g>
<clipPath id="clipb11"><rect x="0" y="0" width="61" height="61"/></clipPath>
<g transform="translate(112.50,314.40) scale(1.0016,0.9934)" clip-path="url(#clipb11)">
<rect x="0" y="0" width="61" height="61" fill="#000"/>
<g filter="url(#bl)" opacity="0.6"><ellipse cx="16" cy="28" rx="14" ry="14" fill="none" stroke="#ff0d0d" stroke-width="0.7" opacity="0.8"/><ellipse cx="45" cy="23" rx="11" ry="11" fill="none" stroke="#ff0d0d" stroke-width="0.6" opacity="0.7"/><path d="M8 20 C9.5 18.0 11.7 15.8 14 15 C16.3 14.2 19.3 14.5 22 15 C24.7 15.5 27.3 17.2 30 18 C32.7 18.8 35.7 19.0 38 20 C40.3 21.0 42.7 22.0 44 24 C45.3 26.0 46.0 29.3 46 32 C46.0 34.7 45.0 38.0 44 40 C43.0 42.0 41.3 43.0 40 44 C38.7 45.0 37.7 46.0 36 46 C34.3 46.0 32.3 44.7 30 44 C27.7 43.3 24.7 42.7 22 42 C19.3 41.3 16.3 41.3 14 40 C11.7 38.7 9.5 36.2 8 34 C6.5 31.8 5.0 29.3 5 27 C5.0 24.7 6.5 22.0 8 20Z" fill="#ff0d0d" opacity="0.95"/><path d="M12 20 C13.0 17.7 15.7 16.5 18 16 C20.3 15.5 23.5 16.2 26 17 C28.5 17.8 31.2 19.2 33 21 C34.8 22.8 36.8 25.5 37 28 C37.2 30.5 35.8 34.3 34 36 C32.2 37.7 28.7 38.0 26 38 C23.3 38.0 20.3 37.3 18 36 C15.7 34.7 13.0 32.7 12 30 C11.0 27.3 11.0 22.3 12 20Z" fill="#ff0d0d"/><ellipse cx="36" cy="48.5" rx="7.5" ry="7" fill="#ff0d0d"/><ellipse cx="37" cy="48.5" rx="4" ry="3.5" fill="#000"/><ellipse cx="53" cy="52" rx="5" ry="5.5" fill="#ff0d0d"/><ellipse cx="3" cy="8" rx="4" ry="5.5" fill="#ff0d0d"/><ellipse cx="39" cy="30" rx="2.5" ry="2.5" fill="#000" opacity="0.6"/><ellipse cx="25" cy="28" rx="2.5" ry="2" fill="#000" opacity="0.4"/></g>
<g filter="url(#speck)" opacity="1.0"><ellipse cx="16" cy="28" rx="14" ry="14" fill="none" stroke="#ff0d0d" stroke-width="0.7" opacity="0.8"/><ellipse cx="45" cy="23" rx="11" ry="11" fill="none" stroke="#ff0d0d" stroke-width="0.6" opacity="0.7"/><path d="M8 20 C9.5 18.0 11.7 15.8 14 15 C16.3 14.2 19.3 14.5 22 15 C24.7 15.5 27.3 17.2 30 18 C32.7 18.8 35.7 19.0 38 20 C40.3 21.0 42.7 22.0 44 24 C45.3 26.0 46.0 29.3 46 32 C46.0 34.7 45.0 38.0 44 40 C43.0 42.0 41.3 43.0 40 44 C38.7 45.0 37.7 46.0 36 46 C34.3 46.0 32.3 44.7 30 44 C27.7 43.3 24.7 42.7 22 42 C19.3 41.3 16.3 41.3 14 40 C11.7 38.7 9.5 36.2 8 34 C6.5 31.8 5.0 29.3 5 27 C5.0 24.7 6.5 22.0 8 20Z" fill="#ff0d0d" opacity="0.95"/><path d="M12 20 C13.0 17.7 15.7 16.5 18 16 C20.3 15.5 23.5 16.2 26 17 C28.5 17.8 31.2 19.2 33 21 C34.8 22.8 36.8 25.5 37 28 C37.2 30.5 35.8 34.3 34 36 C32.2 37.7 28.7 38.0 26 38 C23.3 38.0 20.3 37.3 18 36 C15.7 34.7 13.0 32.7 12 30 C11.0 27.3 11.0 22.3 12 20Z" fill="#ff0d0d"/><ellipse cx="36" cy="48.5" rx="7.5" ry="7" fill="#ff0d0d"/><ellipse cx="37" cy="48.5" rx="4" ry="3.5" fill="#000"/><ellipse cx="53" cy="52" rx="5" ry="5.5" fill="#ff0d0d"/><ellipse cx="3" cy="8" rx="4" ry="5.5" fill="#ff0d0d"/><ellipse cx="39" cy="30" rx="2.5" ry="2.5" fill="#000" opacity="0.6"/><ellipse cx="25" cy="28" rx="2.5" ry="2" fill="#000" opacity="0.4"/></g>
<line x1="27.6" y1="3.9" x2="19.94" y2="9.75" stroke="#fff" stroke-width="1.9"/><path d="M16.2 12.6 L18.51 7.06 L22.15 11.83 Z" fill="#fff"/>
<line x1="58.3" y1="2.1" x2="51.47" y2="7.56" stroke="#fff" stroke-width="1.9"/><path d="M47.8 10.5 L49.99 4.91 L53.73 9.59 Z" fill="#fff"/>
<rect x="38.6" y="53.85" width="17.799999999999997" height="1.6" fill="#f4f4f4"/>
</g>
<clipPath id="clipb12"><rect x="0" y="0" width="61" height="61"/></clipPath>
<g transform="translate(174.90,314.40) scale(1.0016,0.9934)" clip-path="url(#clipb12)">
<rect x="0" y="0" width="61" height="61" fill="#000"/>
<g filter="url(#bl)" opacity="0.5"><ellipse cx="1.5" cy="8" rx="2.5" ry="4" fill="#0b3a0b"/><path d="M8 22 C9.0 19.2 11.7 17.2 14 16 C16.3 14.8 19.3 14.8 22 15 C24.7 15.2 27.5 15.8 30 17 C32.5 18.2 35.0 20.2 37 22 C39.0 23.8 41.2 25.7 42 28 C42.8 30.3 42.7 33.3 42 36 C41.3 38.7 40.0 42.2 38 44 C36.0 45.8 32.7 46.8 30 47 C27.3 47.2 24.7 46.2 22 45 C19.3 43.8 16.3 42.0 14 40 C11.7 38.0 9.0 36.0 8 33 C7.0 30.0 7.0 24.8 8 22Z" fill="#0c4a0c"/><path d="M11 22 C12.0 20.0 14.7 17.8 17 17 C19.3 16.2 22.5 16.3 25 17 C27.5 17.7 30.0 19.3 32 21 C34.0 22.7 36.3 24.7 37 27 C37.7 29.3 37.2 33.0 36 35 C34.8 37.0 32.3 38.5 30 39 C27.7 39.5 24.5 38.7 22 38 C19.5 37.3 16.8 36.5 15 35 C13.2 33.5 11.7 31.2 11 29 C10.3 26.8 10.0 24.0 11 22Z" fill="#1f9a1c"/><ellipse cx="20" cy="24" rx="5" ry="4" fill="#2fd52a" opacity="0.9"/><ellipse cx="27" cy="31" rx="4" ry="4" fill="#2bc427" opacity="0.9"/><ellipse cx="35" cy="28" rx="2" ry="2.5" fill="#2bc427"/><ellipse cx="33" cy="43" rx="7" ry="7" fill="none" stroke="#0f4a0f" stroke-width="1.2"/></g>
<g filter="url(#speck)" opacity="1.0"><ellipse cx="1.5" cy="8" rx="2.5" ry="4" fill="#0b3a0b"/><path d="M8 22 C9.0 19.2 11.7 17.2 14 16 C16.3 14.8 19.3 14.8 22 15 C24.7 15.2 27.5 15.8 30 17 C32.5 18.2 35.0 20.2 37 22 C39.0 23.8 41.2 25.7 42 28 C42.8 30.3 42.7 33.3 42 36 C41.3 38.7 40.0 42.2 38 44 C36.0 45.8 32.7 46.8 30 47 C27.3 47.2 24.7 46.2 22 45 C19.3 43.8 16.3 42.0 14 40 C11.7 38.0 9.0 36.0 8 33 C7.0 30.0 7.0 24.8 8 22Z" fill="#0c4a0c"/><path d="M11 22 C12.0 20.0 14.7 17.8 17 17 C19.3 16.2 22.5 16.3 25 17 C27.5 17.7 30.0 19.3 32 21 C34.0 22.7 36.3 24.7 37 27 C37.7 29.3 37.2 33.0 36 35 C34.8 37.0 32.3 38.5 30 39 C27.7 39.5 24.5 38.7 22 38 C19.5 37.3 16.8 36.5 15 35 C13.2 33.5 11.7 31.2 11 29 C10.3 26.8 10.0 24.0 11 22Z" fill="#1f9a1c"/><ellipse cx="20" cy="24" rx="5" ry="4" fill="#2fd52a" opacity="0.9"/><ellipse cx="27" cy="31" rx="4" ry="4" fill="#2bc427" opacity="0.9"/><ellipse cx="35" cy="28" rx="2" ry="2.5" fill="#2bc427"/><ellipse cx="33" cy="43" rx="7" ry="7" fill="none" stroke="#0f4a0f" stroke-width="1.2"/></g>
<line x1="27.5" y1="3.5" x2="20.30" y2="8.74" stroke="#fff" stroke-width="1.9"/><path d="M16.5 11.5 L18.94 6.02 L22.47 10.87 Z" fill="#fff"/>
<line x1="57.5" y1="2" x2="50.74" y2="7.15" stroke="#fff" stroke-width="1.9"/><path d="M47 10 L49.32 4.46 L52.95 9.23 Z" fill="#fff"/>
<rect x="41.1" y="55.15" width="18.0" height="1.6" fill="#f4f4f4"/>
</g>
<clipPath id="clipb13"><rect x="0" y="0" width="61" height="61"/></clipPath>
<g transform="translate(237.40,314.40) scale(1.0016,0.9934)" clip-path="url(#clipb13)">
<rect x="0" y="0" width="61" height="61" fill="#636363"/>
<g filter="url(#bl)" opacity="0.7"><ellipse cx="16" cy="28" rx="14" ry="14" fill="none" stroke="#e04030" stroke-width="0.7" opacity="0.8"/><ellipse cx="45" cy="23" rx="11" ry="11" fill="none" stroke="#e04030" stroke-width="0.6" opacity="0.7"/><path d="M8 20 C9.5 18.0 11.7 15.8 14 15 C16.3 14.2 19.3 14.5 22 15 C24.7 15.5 27.3 17.2 30 18 C32.7 18.8 35.7 19.0 38 20 C40.3 21.0 42.7 22.0 44 24 C45.3 26.0 46.0 29.3 46 32 C46.0 34.7 45.0 38.0 44 40 C43.0 42.0 41.3 43.0 40 44 C38.7 45.0 37.7 46.0 36 46 C34.3 46.0 32.3 44.7 30 44 C27.7 43.3 24.7 42.7 22 42 C19.3 41.3 16.3 41.3 14 40 C11.7 38.7 9.5 36.2 8 34 C6.5 31.8 5.0 29.3 5 27 C5.0 24.7 6.5 22.0 8 20Z" fill="#f03a20" opacity="0.95"/><path d="M12 20 C13.0 17.7 15.7 16.5 18 16 C20.3 15.5 23.5 16.2 26 17 C28.5 17.8 31.2 19.2 33 21 C34.8 22.8 36.8 25.5 37 28 C37.2 30.5 35.8 34.3 34 36 C32.2 37.7 28.7 38.0 26 38 C23.3 38.0 20.3 37.3 18 36 C15.7 34.7 13.0 32.7 12 30 C11.0 27.3 11.0 22.3 12 20Z" fill="#f0a020"/><ellipse cx="36" cy="48.5" rx="7.5" ry="7" fill="#f03a20"/><ellipse cx="37" cy="48.5" rx="4" ry="3.5" fill="#5a5a5a"/><ellipse cx="53" cy="52" rx="5" ry="5.5" fill="#f03a20"/><ellipse cx="3" cy="8" rx="4" ry="5.5" fill="#f03a20"/><ellipse cx="39" cy="30" rx="2.5" ry="2.5" fill="#5a5a5a" opacity="0.6"/><ellipse cx="25" cy="28" rx="2.5" ry="2" fill="#5a5a5a" opacity="0.4"/></g>
<g filter="url(#speck)" opacity="1.0"><ellipse cx="16" cy="28" rx="14" ry="14" fill="none" stroke="#e04030" stroke-width="0.7" opacity="0.8"/><ellipse cx="45" cy="23" rx="11" ry="11" fill="none" stroke="#e04030" stroke-width="0.6" opacity="0.7"/><path d="M8 20 C9.5 18.0 11.7 15.8 14 15 C16.3 14.2 19.3 14.5 22 15 C24.7 15.5 27.3 17.2 30 18 C32.7 18.8 35.7 19.0 38 20 C40.3 21.0 42.7 22.0 44 24 C45.3 26.0 46.0 29.3 46 32 C46.0 34.7 45.0 38.0 44 40 C43.0 42.0 41.3 43.0 40 44 C38.7 45.0 37.7 46.0 36 46 C34.3 46.0 32.3 44.7 30 44 C27.7 43.3 24.7 42.7 22 42 C19.3 41.3 16.3 41.3 14 40 C11.7 38.7 9.5 36.2 8 34 C6.5 31.8 5.0 29.3 5 27 C5.0 24.7 6.5 22.0 8 20Z" fill="#f03a20" opacity="0.95"/><path d="M12 20 C13.0 17.7 15.7 16.5 18 16 C20.3 15.5 23.5 16.2 26 17 C28.5 17.8 31.2 19.2 33 21 C34.8 22.8 36.8 25.5 37 28 C37.2 30.5 35.8 34.3 34 36 C32.2 37.7 28.7 38.0 26 38 C23.3 38.0 20.3 37.3 18 36 C15.7 34.7 13.0 32.7 12 30 C11.0 27.3 11.0 22.3 12 20Z" fill="#f0a020"/><ellipse cx="36" cy="48.5" rx="7.5" ry="7" fill="#f03a20"/><ellipse cx="37" cy="48.5" rx="4" ry="3.5" fill="#5a5a5a"/><ellipse cx="53" cy="52" rx="5" ry="5.5" fill="#f03a20"/><ellipse cx="3" cy="8" rx="4" ry="5.5" fill="#f03a20"/><ellipse cx="39" cy="30" rx="2.5" ry="2.5" fill="#5a5a5a" opacity="0.6"/><ellipse cx="25" cy="28" rx="2.5" ry="2" fill="#5a5a5a" opacity="0.4"/></g>
<line x1="27.5" y1="3.5" x2="20.30" y2="8.74" stroke="#fff" stroke-width="1.9"/><path d="M16.5 11.5 L18.94 6.02 L22.47 10.87 Z" fill="#fff"/>
<line x1="57.5" y1="2" x2="50.74" y2="7.15" stroke="#fff" stroke-width="1.9"/><path d="M47 10 L49.32 4.46 L52.95 9.23 Z" fill="#fff"/>
<rect x="41.8" y="54.85" width="17.800000000000004" height="1.6" fill="#f4f4f4"/>
<rect x="33.7" y="57.35" width="17.699999999999996" height="1.6" fill="#f4f4f4"/>
</g>
<text x="138.70" y="410.70" stroke="#000">TIOs bound EMT6</text>
<line x1="55.50" y1="417.50" x2="304.30" y2="417.50" stroke="#333" stroke-width="1.0"/>
<text x="89.00" y="436.70" text-anchor="middle" stroke="#000">DIC</text>
<text x="148.50" y="436.70" text-anchor="middle" stroke="#000">Lipid</text>
<text x="212.70" y="430.20" text-anchor="middle" stroke="#000">Lipid</text>
<text x="212.70" y="441.90" text-anchor="middle" stroke="#000">Peroxidation</text>
<text x="270.60" y="437.20" text-anchor="middle" stroke="#000">Merge</text>
<line x1="37.50" y1="445.00" x2="37.50" y2="570.80" stroke="#222" stroke-width="1.0"/>
<text x="0" y="0" text-anchor="middle" stroke="#000" transform="translate(27.60,508.20) rotate(-90)">NIR 980 nm</text>
<text x="0" y="0" text-anchor="middle" stroke="#000" transform="translate(50.00,476.20) rotate(-90)">-</text>
<text x="0" y="0" text-anchor="middle" stroke="#000" transform="translate(48.30,537.10) rotate(-90)">+</text>
<rect x="53.20" y="446.10" width="249.50" height="123.50" fill="#d2d2d2"/>
<clipPath id="clipc00"><rect x="0" y="0" width="61" height="61"/></clipPath>
<g transform="translate(53.80,446.70) scale(1.0016,0.9918)" clip-path="url(#clipc00)">
<rect x="0" y="0" width="61" height="61" fill="#6e6e6e"/>
<g filter="url(#bl)"><path d="M2 22 L10 14 L22 8 L34 4 L40 6 L30 12 L18 18 L8 24Z" fill="none" stroke="#8e8e8e" stroke-width="0.55" opacity="0.55" transform="translate(-0.4,-0.4)" stroke-linejoin="round"/><path d="M2 22 L10 14 L22 8 L34 4 L40 6 L30 12 L18 18 L8 24Z" fill="none" stroke="#383838" stroke-width="0.55" opacity="0.44000000000000006" transform="translate(0.4,0.4)" stroke-linejoin="round"/><path d="M24 18 L30 14 L36 18 L38 28 L34 40 L30 52 L26 50 L26 38 L24 28Z" fill="none" stroke="#8e8e8e" stroke-width="0.55" opacity="0.55" transform="translate(-0.4,-0.4)" stroke-linejoin="round"/><path d="M24 18 L30 14 L36 18 L38 28 L34 40 L30 52 L26 50 L26 38 L24 28Z" fill="none" stroke="#383838" stroke-width="0.55" opacity="0.44000000000000006" transform="translate(0.4,0.4)" stroke-linejoin="round"/><path d="M36 6 L46 2 L56 6 L58 18 L52 26 L44 24 L40 16Z" fill="none" stroke="#8e8e8e" stroke-width="0.55" opacity="0.55" transform="translate(-0.4,-0.4)" stroke-linejoin="round"/><path d="M36 6 L46 2 L56 6 L58 18 L52 26 L44 24 L40 16Z" fill="none" stroke="#383838" stroke-width="0.55" opacity="0.44000000000000006" transform="translate(0.4,0.4)" stroke-linejoin="round"/><path d="M44 26 L52 28 L58 40 L56 56 L50 60 L46 48Z" fill="none" stroke="#8e8e8e" stroke-width="0.55" opacity="0.55" transform="translate(-0.4,-0.4)" stroke-linejoin="round"/><path d="M44 26 L52 28 L58 40 L56 56 L50 60 L46 48Z" fill="none" stroke="#383838" stroke-width="0.55" opacity="0.44000000000000006" transform="translate(0.4,0.4)" stroke-linejoin="round"/></g>
<rect x="39.8" y="55.55" width="18.200000000000003" height="1.6" fill="#f4f4f4"/>
</g>
<clipPath id="clipc01"><rect x="0" y="0" width="61" height="61"/></clipPath>
<g transform="translate(116.20,446.70) scale(1.0016,0.9918)" clip-path="url(#clipc01)">
<rect x="0" y="0" width="61" height="61" fill="#000"/>
<g filter="url(#bl)"><path d="M1.5 22.3 C1.6 21.3 2.8 20.2 4.1 18.8 C5.4 17.4 7.4 15.1 9.5 13.9 C11.6 12.7 14.1 12.5 16.6 11.7 C19.1 10.9 22.2 9.8 24.6 9 C27.0 8.2 29.0 7.7 30.9 7.2 C32.8 6.8 35.0 6.0 36.2 6.3 C37.4 6.6 38.0 7.8 38 9 C38.0 10.2 37.4 12.1 36.2 13.4 C35.0 14.7 33.0 15.9 30.9 17 C28.8 18.1 26.1 18.9 23.7 19.7 C21.3 20.5 19.1 21.2 16.6 21.9 C14.1 22.6 10.8 23.7 8.6 24.1 C6.4 24.6 4.5 24.9 3.3 24.6 C2.1 24.3 1.4 23.3 1.5 22.3Z" fill="#ff0d0d"/><ellipse cx="14.4" cy="17.4" rx="5.2" ry="3.4" fill="#000" transform="rotate(-15 14.4 17.4)"/><ellipse cx="30" cy="11.2" rx="5.3" ry="2.9" fill="#000" transform="rotate(-20 30 11.2)"/><path d="M37.1 8.1 C38.7 6.2 42.7 4.9 45.1 3.6 C47.5 2.3 49.5 0.9 51.3 0.1 C53.1 -0.7 54.1 -1.0 55.8 -1 C57.5 -1.0 60.5 -1.1 61.5 0 C62.5 1.1 62.5 4.4 61.5 5.4 C60.5 6.5 57.0 5.4 55.8 6.3 C54.5 7.2 54.1 8.9 54 10.8 C53.9 12.7 54.9 15.7 54.9 17.9 C54.9 20.1 54.5 21.7 54 24.1 C53.5 26.5 53.1 30.6 52.2 32.1 C51.3 33.6 49.7 33.7 48.7 33 C47.7 32.3 46.6 29.6 46 27.7 C45.4 25.8 46.0 22.7 45.1 21.5 C44.2 20.3 42.0 20.6 40.7 20.6 C39.4 20.6 38.2 21.5 37.1 21.5 C36.0 21.5 34.7 21.7 34.4 20.6 C34.1 19.6 34.8 17.3 35.3 15.2 C35.8 13.1 35.5 10.0 37.1 8.1Z" fill="#ff0d0d"/><ellipse cx="50.4" cy="25.5" rx="3" ry="3.8" fill="#000"/><ellipse cx="37.8" cy="22.5" rx="2.6" ry="2.2" fill="#000" opacity="0.85"/><ellipse cx="44.2" cy="18.8" rx="2" ry="1.6" fill="#000" opacity="0.8"/><path d="M24.2 31 C24.7 29.6 25.4 27.6 26.5 26.5 C27.6 25.4 29.4 24.7 31 24.6 C32.6 24.5 34.7 24.9 36 26 C37.3 27.1 38.3 29.3 38.6 31 C38.9 32.7 38.7 34.2 38 36 C37.3 37.8 35.8 39.8 34.5 42 C33.2 44.2 31.7 46.8 30.5 49 C29.3 51.2 28.6 53.1 27.5 55 C26.4 56.9 24.9 60.5 24.2 60.5 C23.5 60.5 23.3 57.4 23.3 55 C23.3 52.6 23.8 48.7 24 46 C24.2 43.3 24.6 40.8 24.5 39 C24.4 37.2 23.4 36.3 23.4 35 C23.3 33.7 23.7 32.4 24.2 31Z" fill="#ff0d0d"/><ellipse cx="30.9" cy="32.3" rx="6.0" ry="4.4" fill="#000"/><ellipse cx="30.9" cy="32.3" rx="6.3" ry="4.7" fill="none" stroke="#ff0d0d" stroke-width="0.6"/><ellipse cx="40.7" cy="39.3" rx="2.7" ry="2.7" fill="#ff0d0d"/><ellipse cx="58" cy="20.1" rx="1.8" ry="1.8" fill="#ff0d0d"/><ellipse cx="57.6" cy="25.9" rx="2.5" ry="2.5" fill="#ff0d0d"/><ellipse cx="52.2" cy="33.9" rx="1.5" ry="1.5" fill="#ff0d0d"/><ellipse cx="31.7" cy="51.7" rx="2.2" ry="2.8" fill="#ff0d0d"/><ellipse cx="11.3" cy="31.7" rx="1.4" ry="1.4" fill="#ff0d0d"/><ellipse cx="30" cy="2.8" rx="1.4" ry="1.4" fill="#ff0d0d"/><ellipse cx="26.4" cy="6.3" rx="1.4" ry="1.4" fill="#ff0d0d"/><ellipse cx="20.5" cy="37.5" rx="0.9" ry="0.9" fill="#ff0d0d"/><ellipse cx="22" cy="43" rx="0.8" ry="0.8" fill="#ff0d0d"/></g>
<rect x="42.1" y="56.85" width="17.6" height="1.6" fill="#f4f4f4"/>
</g>
<clipPath id="clipc02"><rect x="0" y="0" width="61" height="61"/></clipPath>
<g transform="translate(178.40,446.70) scale(1.0016,0.9918)" clip-path="url(#clipc02)">
<rect x="0" y="0" width="61" height="61" fill="#000"/>
<rect x="40.9" y="55.95" width="18.1" height="1.6" fill="#f4f4f4"/>
</g>
<clipPath id="clipc03"><rect x="0" y="0" width="61" height="61"/></clipPath>
<g transform="translate(241.00,446.70) scale(1.0016,0.9918)" clip-path="url(#clipc03)">
<rect x="0" y="0" width="61" height="61" fill="#5e5e5e"/>
<g filter="url(#bl)"><path d="M1.5 22.3 C1.6 21.3 2.8 20.2 4.1 18.8 C5.4 17.4 7.4 15.1 9.5 13.9 C11.6 12.7 14.1 12.5 16.6 11.7 C19.1 10.9 22.2 9.8 24.6 9 C27.0 8.2 29.0 7.7 30.9 7.2 C32.8 6.8 35.0 6.0 36.2 6.3 C37.4 6.6 38.0 7.8 38 9 C38.0 10.2 37.4 12.1 36.2 13.4 C35.0 14.7 33.0 15.9 30.9 17 C28.8 18.1 26.1 18.9 23.7 19.7 C21.3 20.5 19.1 21.2 16.6 21.9 C14.1 22.6 10.8 23.7 8.6 24.1 C6.4 24.6 4.5 24.9 3.3 24.6 C2.1 24.3 1.4 23.3 1.5 22.3Z" fill="#f83c3c"/><ellipse cx="14.4" cy="17.4" rx="5.2" ry="3.4" fill="#5a5252" transform="rotate(-15 14.4 17.4)"/><ellipse cx="30" cy="11.2" rx="5.3" ry="2.9" fill="#5a5252" transform="rotate(-20 30 11.2)"/><path d="M37.1 8.1 C38.7 6.2 42.7 4.9 45.1 3.6 C47.5 2.3 49.5 0.9 51.3 0.1 C53.1 -0.7 54.1 -1.0 55.8 -1 C57.5 -1.0 60.5 -1.1 61.5 0 C62.5 1.1 62.5 4.4 61.5 5.4 C60.5 6.5 57.0 5.4 55.8 6.3 C54.5 7.2 54.1 8.9 54 10.8 C53.9 12.7 54.9 15.7 54.9 17.9 C54.9 20.1 54.5 21.7 54 24.1 C53.5 26.5 53.1 30.6 52.2 32.1 C51.3 33.6 49.7 33.7 48.7 33 C47.7 32.3 46.6 29.6 46 27.7 C45.4 25.8 46.0 22.7 45.1 21.5 C44.2 20.3 42.0 20.6 40.7 20.6 C39.4 20.6 38.2 21.5 37.1 21.5 C36.0 21.5 34.7 21.7 34.4 20.6 C34.1 19.6 34.8 17.3 35.3 15.2 C35.8 13.1 35.5 10.0 37.1 8.1Z" fill="#f83c3c"/><ellipse cx="50.4" cy="25.5" rx="3" ry="3.8" fill="#5a5252"/><ellipse cx="37.8" cy="22.5" rx="2.6" ry="2.2" fill="#5a5252" opacity="0.85"/><ellipse cx="44.2" cy="18.8" rx="2" ry="1.6" fill="#5a5252" opacity="0.8"/><path d="M24.2 31 C24.7 29.6 25.4 27.6 26.5 26.5 C27.6 25.4 29.4 24.7 31 24.6 C32.6 24.5 34.7 24.9 36 26 C37.3 27.1 38.3 29.3 38.6 31 C38.9 32.7 38.7 34.2 38 36 C37.3 37.8 35.8 39.8 34.5 42 C33.2 44.2 31.7 46.8 30.5 49 C29.3 51.2 28.6 53.1 27.5 55 C26.4 56.9 24.9 60.5 24.2 60.5 C23.5 60.5 23.3 57.4 23.3 55 C23.3 52.6 23.8 48.7 24 46 C24.2 43.3 24.6 40.8 24.5 39 C24.4 37.2 23.4 36.3 23.4 35 C23.3 33.7 23.7 32.4 24.2 31Z" fill="#f83c3c"/><ellipse cx="30.9" cy="32.3" rx="6.0" ry="4.4" fill="#5a5252"/><ellipse cx="30.9" cy="32.3" rx="6.3" ry="4.7" fill="none" stroke="#f83c3c" stroke-width="0.6"/><ellipse cx="40.7" cy="39.3" rx="2.7" ry="2.7" fill="#f83c3c"/><ellipse cx="58" cy="20.1" rx="1.8" ry="1.8" fill="#f83c3c"/><ellipse cx="57.6" cy="25.9" rx="2.5" ry="2.5" fill="#f83c3c"/><ellipse cx="52.2" cy="33.9" rx="1.5" ry="1.5" fill="#f83c3c"/><ellipse cx="31.7" cy="51.7" rx="2.2" ry="2.8" fill="#f83c3c"/><ellipse cx="11.3" cy="31.7" rx="1.4" ry="1.4" fill="#f83c3c"/><ellipse cx="30" cy="2.8" rx="1.4" ry="1.4" fill="#f83c3c"/><ellipse cx="26.4" cy="6.3" rx="1.4" ry="1.4" fill="#f83c3c"/><ellipse cx="20.5" cy="37.5" rx="0.9" ry="0.9" fill="#f83c3c"/><ellipse cx="22" cy="43" rx="0.8" ry="0.8" fill="#f83c3c"/></g>
<rect x="42.2" y="55.55" width="17.799999999999997" height="1.6" fill="#f4f4f4"/>
</g>
<clipPath id="clipc10"><rect x="0" y="0" width="61" height="61"/></clipPath>
<g transform="translate(53.80,508.50) scale(1.0016,0.9918)" clip-path="url(#clipc10)">
<rect x="0" y="0" width="61" height="61" fill="#6c6c6c"/>
<g filter="url(#bl)"><path d="M12 20 C13.3 17.3 15.7 14.7 18 14 C20.3 13.3 24.0 14.3 26 16 C28.0 17.7 29.3 20.7 30 24 C30.7 27.3 30.7 32.7 30 36 C29.3 39.3 28.0 42.3 26 44 C24.0 45.7 20.3 46.7 18 46 C15.7 45.3 13.3 42.7 12 40 C10.7 37.3 10.0 33.3 10 30 C10.0 26.7 10.7 22.7 12 20Z" fill="#686868" opacity="0.6"/><path d="M12 20 L18 14 L26 16 L30 24 L30 36 L26 44 L18 46 L12 40 L10 30Z" fill="none" stroke="#8e8e8e" stroke-width="0.55" opacity="0.6" transform="translate(-0.4,-0.4)" stroke-linejoin="round"/><path d="M12 20 L18 14 L26 16 L30 24 L30 36 L26 44 L18 46 L12 40 L10 30Z" fill="none" stroke="#3a3a3a" stroke-width="0.55" opacity="0.48" transform="translate(0.4,0.4)" stroke-linejoin="round"/><path d="M16 28 C17.0 26.3 20.3 25.3 22 26 C23.7 26.7 26.0 30.0 26 32 C26.0 34.0 23.7 37.3 22 38 C20.3 38.7 17.0 37.7 16 36 C15.0 34.3 15.0 29.7 16 28Z" fill="#686868" opacity="0.6"/><path d="M16 28 L22 26 L26 32 L22 38 L16 36Z" fill="none" stroke="#8e8e8e" stroke-width="0.55" opacity="0.6" transform="translate(-0.4,-0.4)" stroke-linejoin="round"/><path d="M16 28 L22 26 L26 32 L22 38 L16 36Z" fill="none" stroke="#3a3a3a" stroke-width="0.55" opacity="0.48" transform="translate(0.4,0.4)" stroke-linejoin="round"/><path d="M2 6 C3.0 4.5 6.3 2.7 8 3 C9.7 3.3 12.0 6.2 12 8 C12.0 9.8 9.7 13.3 8 14 C6.3 14.7 3.0 13.3 2 12 C1.0 10.7 1.0 7.5 2 6Z" fill="#686868" opacity="0.6"/><path d="M2 6 L8 3 L12 8 L8 14 L2 12Z" fill="none" stroke="#8e8e8e" stroke-width="0.55" opacity="0.6" transform="translate(-0.4,-0.4)" stroke-linejoin="round"/><path d="M2 6 L8 3 L12 8 L8 14 L2 12Z" fill="none" stroke="#3a3a3a" stroke-width="0.55" opacity="0.48" transform="translate(0.4,0.4)" stroke-linejoin="round"/><ellipse cx="59" cy="34" rx="7.5" ry="9.5" fill="none" stroke="#474747" stroke-width="1.6"/><ellipse cx="59" cy="34" rx="5.5" ry="7.5" fill="none" stroke="#a8a8a8" stroke-width="1.8"/><ellipse cx="59" cy="34" rx="3.5" ry="5" fill="#5a5a5a"/></g>
<g filter="url(#bl)" opacity="0.15"><path d="M10 16 C11.7 13.3 15.3 12.3 18 12 C20.7 11.7 23.8 12.0 26 14 C28.2 16.0 30.2 20.0 31 24 C31.8 28.0 31.8 34.3 31 38 C30.2 41.7 28.3 44.5 26 46 C23.7 47.5 19.7 48.0 17 47 C14.3 46.0 11.5 43.2 10 40 C8.5 36.8 8.0 32.0 8 28 C8.0 24.0 8.3 18.7 10 16Z" fill="#505050"/><ellipse cx="8" cy="6" rx="6" ry="5" fill="#585858"/></g>
<g filter="url(#speck)" opacity="0.35"><path d="M10 16 C11.7 13.3 15.3 12.3 18 12 C20.7 11.7 23.8 12.0 26 14 C28.2 16.0 30.2 20.0 31 24 C31.8 28.0 31.8 34.3 31 38 C30.2 41.7 28.3 44.5 26 46 C23.7 47.5 19.7 48.0 17 47 C14.3 46.0 11.5 43.2 10 40 C8.5 36.8 8.0 32.0 8 28 C8.0 24.0 8.3 18.7 10 16Z" fill="#505050"/><ellipse cx="8" cy="6" rx="6" ry="5" fill="#585858"/></g>
<line x1="57.5" y1="1.9" x2="49.80" y2="7.53" stroke="#fff" stroke-width="1.9"/><path d="M46 10.3 L48.43 4.81 L51.97 9.66 Z" fill="#fff"/>
<line x1="56.6" y1="29.2" x2="49.67" y2="34.76" stroke="#fff" stroke-width="1.9"/><path d="M46 37.7 L48.18 32.11 L51.93 36.79 Z" fill="#fff"/>
<rect x="39.2" y="55.55" width="18.199999999999996" height="1.6" fill="#f4f4f4"/>
</g>
<clipPath id="clipc11"><rect x="0" y="0" width="61" height="61"/></clipPath>
<g transform="translate(116.20,508.50) scale(1.0016,0.9918)" clip-path="url(#clipc11)">
<rect x="0" y="0" width="61" height="61" fill="#000"/>
<g filter="url(#bl)"><ellipse cx="33.1" cy="16.8" rx="12.9" ry="12.9" fill="none" stroke="#ff0d0d" stroke-width="0.7" opacity="0.8"/><ellipse cx="30.2" cy="44.4" rx="15.8" ry="13.4" fill="none" stroke="#ff0d0d" stroke-width="0.7" opacity="0.8"/><path d="M10.8 19 C11.2 17.5 13.2 17.4 14.8 16.3 C16.4 15.2 18.6 13.2 20.2 12.7 C21.8 12.2 23.4 12.3 24.6 13.2 C25.8 14.1 26.6 16.2 27.3 18.1 C28.0 20.0 28.9 22.8 28.6 24.3 C28.3 25.8 26.8 26.5 25.5 27 C24.2 27.5 22.6 27.4 21.1 27.5 C19.6 27.6 18.1 27.9 16.6 27.5 C15.1 27.1 13.2 26.6 12.2 25.2 C11.2 23.8 10.4 20.5 10.8 19Z" fill="#ff0d0d"/><ellipse cx="23.7" cy="20.8" rx="1.8" ry="3.0" fill="#000"/><ellipse cx="16.2" cy="21.6" rx="1.6" ry="2.2" fill="#000" opacity="0.8"/><ellipse cx="21.5" cy="35" rx="9" ry="8" fill="#ff0d0d"/><ellipse cx="22.4" cy="33.7" rx="3.6" ry="3.2" fill="#000"/><ellipse cx="57.5" cy="35" rx="6.5" ry="8" fill="#ff0d0d"/><ellipse cx="55" cy="36" rx="1.5" ry="2.5" fill="#000" opacity="0.7"/><ellipse cx="9.0" cy="4.3" rx="1.6" ry="1.4" fill="#ff0d0d"/><ellipse cx="61" cy="53.7" rx="1.6" ry="3" fill="#ff0d0d"/></g>
<line x1="56.2" y1="0.7" x2="49.11" y2="6.59" stroke="#fff" stroke-width="1.9"/><path d="M45.5 9.6 L47.58 3.97 L51.42 8.58 Z" fill="#fff"/>
<line x1="56.2" y1="29.2" x2="49.18" y2="34.78" stroke="#fff" stroke-width="1.9"/><path d="M45.5 37.7 L47.71 32.12 L51.44 36.81 Z" fill="#fff"/>
<rect x="36.9" y="53.55" width="18.1" height="1.6" fill="#f4f4f4"/>
</g>
<clipPath id="clipc12"><rect x="0" y="0" width="61" height="61"/></clipPath>
<g transform="translate(178.40,508.50) scale(1.0016,0.9918)" clip-path="url(#clipc12)">
<rect x="0" y="0" width="61" height="61" fill="#000"/>
<g filter="url(#bl)" opacity="0.55"><ellipse cx="21.8" cy="35" rx="7.5" ry="6.6" fill="none" stroke="#20b01c" stroke-width="3.2"/><path d="M12 19 C12.7 17.7 14.5 16.9 16 16 C17.5 15.1 19.5 13.8 21 13.5 C22.5 13.2 23.9 13.1 25 14 C26.1 14.9 27.0 17.3 27.5 19 C28.0 20.7 28.4 22.7 28 24 C27.6 25.3 26.3 26.4 25 27 C23.7 27.6 21.7 27.5 20 27.5 C18.3 27.5 16.3 27.6 15 27 C13.7 26.4 12.5 25.3 12 24 C11.5 22.7 11.3 20.3 12 19Z" fill="#20b01c"/><ellipse cx="23.7" cy="20.8" rx="1.8" ry="3.0" fill="#000"/><ellipse cx="17" cy="21.6" rx="1.8" ry="2.4" fill="#000"/><ellipse cx="58.5" cy="34" rx="5.0" ry="7" fill="#2ee028"/><ellipse cx="5" cy="3" rx="1" ry="1" fill="#1b8a1b"/></g>
<g filter="url(#speck)" opacity="1.0"><ellipse cx="21.8" cy="35" rx="7.5" ry="6.6" fill="none" stroke="#20b01c" stroke-width="3.2"/><path d="M12 19 C12.7 17.7 14.5 16.9 16 16 C17.5 15.1 19.5 13.8 21 13.5 C22.5 13.2 23.9 13.1 25 14 C26.1 14.9 27.0 17.3 27.5 19 C28.0 20.7 28.4 22.7 28 24 C27.6 25.3 26.3 26.4 25 27 C23.7 27.6 21.7 27.5 20 27.5 C18.3 27.5 16.3 27.6 15 27 C13.7 26.4 12.5 25.3 12 24 C11.5 22.7 11.3 20.3 12 19Z" fill="#20b01c"/><ellipse cx="23.7" cy="20.8" rx="1.8" ry="3.0" fill="#000"/><ellipse cx="17" cy="21.6" rx="1.8" ry="2.4" fill="#000"/><ellipse cx="58.5" cy="34" rx="5.0" ry="7" fill="#2ee028"/><ellipse cx="5" cy="3" rx="1" ry="1" fill="#1b8a1b"/></g>
<line x1="56" y1="1.5" x2="48.66" y2="6.99" stroke="#fff" stroke-width="1.9"/><path d="M44.9 9.8 L47.27 4.28 L50.86 9.09 Z" fill="#fff"/>
<line x1="55.1" y1="30.1" x2="48.55" y2="35.43" stroke="#fff" stroke-width="1.9"/><path d="M44.9 38.4 L47.04 32.79 L50.83 37.44 Z" fill="#fff"/>
<rect x="40.0" y="54.55" width="17.9" height="1.6" fill="#f4f4f4"/>
</g>
<clipPath id="clipc13"><rect x="0" y="0" width="61" height="61"/></clipPath>
<g transform="translate(241.00,508.50) scale(1.0016,0.9918)" clip-path="url(#clipc13)">
<rect x="0" y="0" width="61" height="61" fill="#5e5e5e"/>
<g filter="url(#bl)" opacity="0.8"><ellipse cx="33.1" cy="16.8" rx="12.9" ry="12.9" fill="none" stroke="#b85040" stroke-width="0.7" opacity="0.8"/><ellipse cx="30.2" cy="44.4" rx="15.8" ry="13.4" fill="none" stroke="#b85040" stroke-width="0.7" opacity="0.8"/><path d="M10.8 19 C11.2 17.5 13.2 17.4 14.8 16.3 C16.4 15.2 18.6 13.2 20.2 12.7 C21.8 12.2 23.4 12.3 24.6 13.2 C25.8 14.1 26.6 16.2 27.3 18.1 C28.0 20.0 28.9 22.8 28.6 24.3 C28.3 25.8 26.8 26.5 25.5 27 C24.2 27.5 22.6 27.4 21.1 27.5 C19.6 27.6 18.1 27.9 16.6 27.5 C15.1 27.1 13.2 26.6 12.2 25.2 C11.2 23.8 10.4 20.5 10.8 19Z" fill="#f07020"/><ellipse cx="23.7" cy="20.8" rx="1.8" ry="3.0" fill="#585858"/><ellipse cx="16.2" cy="21.6" rx="1.6" ry="2.2" fill="#585858" opacity="0.8"/><ellipse cx="21.5" cy="35" rx="9" ry="8" fill="#f07020"/><ellipse cx="22.4" cy="33.7" rx="3.6" ry="3.2" fill="#585858"/><ellipse cx="57.5" cy="35" rx="6.5" ry="8" fill="#f0a020"/><ellipse cx="55" cy="36" rx="1.5" ry="2.5" fill="#585858" opacity="0.7"/><ellipse cx="9.0" cy="4.3" rx="1.6" ry="1.4" fill="#f07020"/><ellipse cx="61" cy="53.7" rx="1.6" ry="3" fill="#f07020"/></g>
<g filter="url(#speck)" opacity="1.0"><ellipse cx="33.1" cy="16.8" rx="12.9" ry="12.9" fill="none" stroke="#b85040" stroke-width="0.7" opacity="0.8"/><ellipse cx="30.2" cy="44.4" rx="15.8" ry="13.4" fill="none" stroke="#b85040" stroke-width="0.7" opacity="0.8"/><path d="M10.8 19 C11.2 17.5 13.2 17.4 14.8 16.3 C16.4 15.2 18.6 13.2 20.2 12.7 C21.8 12.2 23.4 12.3 24.6 13.2 C25.8 14.1 26.6 16.2 27.3 18.1 C28.0 20.0 28.9 22.8 28.6 24.3 C28.3 25.8 26.8 26.5 25.5 27 C24.2 27.5 22.6 27.4 21.1 27.5 C19.6 27.6 18.1 27.9 16.6 27.5 C15.1 27.1 13.2 26.6 12.2 25.2 C11.2 23.8 10.4 20.5 10.8 19Z" fill="#f07020"/><ellipse cx="23.7" cy="20.8" rx="1.8" ry="3.0" fill="#585858"/><ellipse cx="16.2" cy="21.6" rx="1.6" ry="2.2" fill="#585858" opacity="0.8"/><ellipse cx="21.5" cy="35" rx="9" ry="8" fill="#f07020"/><ellipse cx="22.4" cy="33.7" rx="3.6" ry="3.2" fill="#585858"/><ellipse cx="57.5" cy="35" rx="6.5" ry="8" fill="#f0a020"/><ellipse cx="55" cy="36" rx="1.5" ry="2.5" fill="#585858" opacity="0.7"/><ellipse cx="9.0" cy="4.3" rx="1.6" ry="1.4" fill="#f07020"/><ellipse cx="61" cy="53.7" rx="1.6" ry="3" fill="#f07020"/></g>
<line x1="56.5" y1="1.5" x2="48.78" y2="7.21" stroke="#fff" stroke-width="1.9"/><path d="M45 10 L47.40 4.50 L50.96 9.32 Z" fill="#fff"/>
<line x1="55" y1="29.5" x2="48.58" y2="34.96" stroke="#fff" stroke-width="1.9"/><path d="M45 38 L47.02 32.35 L50.91 36.92 Z" fill="#fff"/>
<rect x="43.1" y="55.15" width="17.9" height="1.6" fill="#f4f4f4"/>
<rect x="18.3" y="58.25" width="18.3" height="1.6" fill="#f4f4f4"/>
</g>
<text x="341.00" y="13.30" stroke="#000" font-weight="bold" font-size="15">b</text>
<text x="378.80" y="28.80" stroke="#000">TIOs bound tumour cells</text>
<line x1="372.50" y1="35.50" x2="652.00" y2="35.50" stroke="#999" stroke-width="1.0"/>
<rect x="555.50" y="8.80" width="11.50" height="6.70" fill="#fff" stroke="#ff4040" stroke-width="1.0"/>
<text x="576.00" y="15.20" stroke="#000">with NIR</text>
<rect x="555.50" y="24.80" width="11.50" height="6.70" fill="#fff" stroke="#222" stroke-width="1.0"/>
<text x="576.00" y="31.80" stroke="#000">without NIR</text>
<rect x="400.90" y="66.43" width="8.90" height="100.87" fill="#fff" stroke="#1a1a1a" stroke-width="1.3"/>
<line x1="405.35" y1="62.48" x2="405.35" y2="66.43" stroke="#1a1a1a" stroke-width="1.3"/>
<line x1="402.85" y1="62.48" x2="407.85" y2="62.48" stroke="#1a1a1a" stroke-width="1.3"/>
<circle cx="405.35" cy="68.47" r="1.45" fill="#1a1a1a"/>
<circle cx="407.35" cy="64.27" r="1.45" fill="#1a1a1a"/>
<rect x="433.65" y="70.26" width="8.20" height="97.04" fill="#fff" stroke="#1a1a1a" stroke-width="1.3"/>
<line x1="437.75" y1="67.27" x2="437.75" y2="70.26" stroke="#1a1a1a" stroke-width="1.3"/>
<line x1="435.25" y1="67.27" x2="440.25" y2="67.27" stroke="#1a1a1a" stroke-width="1.3"/>
<circle cx="436.75" cy="70.26" r="1.45" fill="#1a1a1a"/>
<circle cx="439.25" cy="68.47" r="1.45" fill="#1a1a1a"/>
<rect x="466.45" y="65.47" width="7.90" height="101.83" fill="#fff" stroke="#1a1a1a" stroke-width="1.3"/>
<line x1="470.40" y1="61.28" x2="470.40" y2="65.47" stroke="#1a1a1a" stroke-width="1.3"/>
<line x1="467.90" y1="61.28" x2="472.90" y2="61.28" stroke="#1a1a1a" stroke-width="1.3"/>
<circle cx="470.40" cy="69.66" r="1.45" fill="#1a1a1a"/>
<circle cx="471.40" cy="62.48" r="1.45" fill="#1a1a1a"/>
<rect x="412.30" y="134.95" width="8.05" height="32.35" fill="#fff" stroke="#ff1a1a" stroke-width="1.3"/>
<line x1="416.32" y1="130.16" x2="416.32" y2="134.95" stroke="#ff1a1a" stroke-width="1.3"/>
<line x1="413.82" y1="130.16" x2="418.82" y2="130.16" stroke="#ff1a1a" stroke-width="1.3"/>
<circle cx="416.32" cy="139.75" r="1.45" fill="#ff1a1a"/>
<circle cx="417.32" cy="131.36" r="1.45" fill="#ff1a1a"/>
<rect x="445.15" y="134.95" width="7.20" height="32.35" fill="#fff" stroke="#ff1a1a" stroke-width="1.3"/>
<line x1="448.75" y1="130.16" x2="448.75" y2="134.95" stroke="#ff1a1a" stroke-width="1.3"/>
<line x1="446.25" y1="130.16" x2="451.25" y2="130.16" stroke="#ff1a1a" stroke-width="1.3"/>
<circle cx="447.75" cy="136.75" r="1.45" fill="#ff1a1a"/>
<circle cx="449.75" cy="131.36" r="1.45" fill="#ff1a1a"/>
<rect x="477.65" y="137.95" width="7.70" height="29.35" fill="#fff" stroke="#ff1a1a" stroke-width="1.3"/>
<line x1="481.50" y1="133.16" x2="481.50" y2="137.95" stroke="#ff1a1a" stroke-width="1.3"/>
<line x1="479.00" y1="133.16" x2="484.00" y2="133.16" stroke="#ff1a1a" stroke-width="1.3"/>
<circle cx="481.50" cy="141.54" r="1.45" fill="#ff1a1a"/>
<circle cx="482.50" cy="134.36" r="1.45" fill="#ff1a1a"/>
<line x1="395.80" y1="46.80" x2="395.80" y2="168.00" stroke="#1a1a1a" stroke-width="1.4"/>
<line x1="392.10" y1="167.30" x2="395.80" y2="167.30" stroke="#1a1a1a" stroke-width="1.4"/>
<text x="388.00" y="170.80" text-anchor="end" stroke="#000">0</text>
<line x1="392.10" y1="143.34" x2="395.80" y2="143.34" stroke="#1a1a1a" stroke-width="1.4"/>
<text x="388.00" y="146.84" text-anchor="end" stroke="#000">20</text>
<line x1="392.10" y1="119.38" x2="395.80" y2="119.38" stroke="#1a1a1a" stroke-width="1.4"/>
<text x="388.00" y="122.88" text-anchor="end" stroke="#000">40</text>
<line x1="392.10" y1="95.42" x2="395.80" y2="95.42" stroke="#1a1a1a" stroke-width="1.4"/>
<text x="388.00" y="98.92" text-anchor="end" stroke="#000">60</text>
<line x1="392.10" y1="71.46" x2="395.80" y2="71.46" stroke="#1a1a1a" stroke-width="1.4"/>
<text x="388.00" y="74.96" text-anchor="end" stroke="#000">80</text>
<line x1="392.10" y1="47.50" x2="395.80" y2="47.50" stroke="#1a1a1a" stroke-width="1.4"/>
<text x="388.00" y="51.00" text-anchor="end" stroke="#000">100</text>
<line x1="391.60" y1="167.30" x2="491.00" y2="167.30" stroke="#1a1a1a" stroke-width="1.4"/>
<line x1="411.20" y1="167.30" x2="411.20" y2="171.80" stroke="#1a1a1a" stroke-width="1.4"/>
<line x1="443.50" y1="167.30" x2="443.50" y2="171.80" stroke="#1a1a1a" stroke-width="1.4"/>
<line x1="476.20" y1="167.30" x2="476.20" y2="171.80" stroke="#1a1a1a" stroke-width="1.4"/>
<line x1="404.50" y1="45.50" x2="421.00" y2="45.50" stroke="#666" stroke-width="0.9"/>
<line x1="433.00" y1="45.50" x2="450.00" y2="45.50" stroke="#666" stroke-width="0.9"/>
<line x1="467.50" y1="45.50" x2="485.00" y2="45.50" stroke="#666" stroke-width="0.9"/>
<text x="0" y="0" text-anchor="middle" stroke="#000" transform="translate(423.00,77.50) rotate(-90)">P &lt; 0.0001</text>
<text x="0" y="0" text-anchor="middle" stroke="#000" transform="translate(457.20,81.00) rotate(-90)">P &lt; 0.0001</text>
<text x="0" y="0" text-anchor="middle" stroke="#000" transform="translate(492.20,87.00) rotate(-90)">P &lt; 0.0001</text>
<text x="0" y="0" text-anchor="middle" stroke="#000" transform="translate(369.10,105.50) rotate(-90)">Cell viability</text>
<text x="410.00" y="184.00" text-anchor="middle" stroke="#000">CT26</text>
<text x="445.00" y="184.00" text-anchor="middle" stroke="#000">EMT6</text>
<text x="477.50" y="184.00" text-anchor="middle" stroke="#000">4T1</text>
<rect x="552.65" y="155.67" width="7.45" height="11.03" fill="#fff" stroke="#1a1a1a" stroke-width="1.3"/>
<line x1="556.38" y1="149.06" x2="556.38" y2="155.67" stroke="#1a1a1a" stroke-width="1.3"/>
<line x1="553.88" y1="149.06" x2="558.88" y2="149.06" stroke="#1a1a1a" stroke-width="1.3"/>
<circle cx="556.38" cy="160.82" r="1.45" fill="#1a1a1a"/>
<circle cx="557.38" cy="153.47" r="1.45" fill="#1a1a1a"/>
<rect x="584.40" y="154.20" width="7.45" height="12.50" fill="#fff" stroke="#1a1a1a" stroke-width="1.3"/>
<line x1="588.12" y1="151.26" x2="588.12" y2="154.20" stroke="#1a1a1a" stroke-width="1.3"/>
<line x1="585.62" y1="151.26" x2="590.62" y2="151.26" stroke="#1a1a1a" stroke-width="1.3"/>
<circle cx="587.12" cy="156.41" r="1.45" fill="#1a1a1a"/>
<circle cx="589.12" cy="152.00" r="1.45" fill="#1a1a1a"/>
<rect x="616.15" y="154.20" width="7.45" height="12.50" fill="#fff" stroke="#1a1a1a" stroke-width="1.3"/>
<line x1="619.88" y1="152.73" x2="619.88" y2="154.20" stroke="#1a1a1a" stroke-width="1.3"/>
<line x1="617.38" y1="152.73" x2="622.38" y2="152.73" stroke="#1a1a1a" stroke-width="1.3"/>
<circle cx="619.88" cy="154.20" r="1.45" fill="#1a1a1a"/>
<rect x="563.65" y="75.56" width="8.20" height="91.14" fill="#fff" stroke="#ff1a1a" stroke-width="1.3"/>
<line x1="567.75" y1="74.09" x2="567.75" y2="75.56" stroke="#ff1a1a" stroke-width="1.3"/>
<line x1="565.25" y1="74.09" x2="570.25" y2="74.09" stroke="#ff1a1a" stroke-width="1.3"/>
<circle cx="568.75" cy="75.56" r="1.45" fill="#ff1a1a"/>
<rect x="595.15" y="74.82" width="7.95" height="91.88" fill="#fff" stroke="#ff1a1a" stroke-width="1.3"/>
<line x1="599.12" y1="72.62" x2="599.12" y2="74.82" stroke="#ff1a1a" stroke-width="1.3"/>
<line x1="596.62" y1="72.62" x2="601.62" y2="72.62" stroke="#ff1a1a" stroke-width="1.3"/>
<circle cx="599.12" cy="74.09" r="1.45" fill="#ff1a1a"/>
<rect x="626.90" y="67.47" width="7.95" height="99.22" fill="#fff" stroke="#ff1a1a" stroke-width="1.3"/>
<line x1="630.88" y1="60.12" x2="630.88" y2="67.47" stroke="#ff1a1a" stroke-width="1.3"/>
<line x1="628.38" y1="60.12" x2="633.38" y2="60.12" stroke="#ff1a1a" stroke-width="1.3"/>
<circle cx="630.88" cy="75.56" r="1.45" fill="#ff1a1a"/>
<circle cx="630.88" cy="60.86" r="1.45" fill="#ff1a1a"/>
<line x1="547.00" y1="48.40" x2="547.00" y2="167.40" stroke="#1a1a1a" stroke-width="1.4"/>
<line x1="543.20" y1="166.70" x2="547.00" y2="166.70" stroke="#1a1a1a" stroke-width="1.4"/>
<text x="539.80" y="170.20" text-anchor="end" stroke="#000">0</text>
<line x1="543.20" y1="137.30" x2="547.00" y2="137.30" stroke="#1a1a1a" stroke-width="1.4"/>
<text x="539.80" y="140.80" text-anchor="end" stroke="#000">20</text>
<line x1="543.20" y1="107.90" x2="547.00" y2="107.90" stroke="#1a1a1a" stroke-width="1.4"/>
<text x="539.80" y="111.40" text-anchor="end" stroke="#000">40</text>
<line x1="543.20" y1="78.50" x2="547.00" y2="78.50" stroke="#1a1a1a" stroke-width="1.4"/>
<text x="539.80" y="82.00" text-anchor="end" stroke="#000">60</text>
<line x1="543.20" y1="49.10" x2="547.00" y2="49.10" stroke="#1a1a1a" stroke-width="1.4"/>
<text x="539.80" y="52.60" text-anchor="end" stroke="#000">80</text>
<line x1="542.60" y1="166.70" x2="640.00" y2="166.70" stroke="#1a1a1a" stroke-width="1.4"/>
<line x1="562.10" y1="166.70" x2="562.10" y2="171.70" stroke="#1a1a1a" stroke-width="1.4"/>
<line x1="594.00" y1="166.70" x2="594.00" y2="171.70" stroke="#1a1a1a" stroke-width="1.4"/>
<line x1="625.80" y1="166.70" x2="625.80" y2="171.70" stroke="#1a1a1a" stroke-width="1.4"/>
<line x1="550.00" y1="57.50" x2="567.50" y2="57.50" stroke="#666" stroke-width="0.9"/>
<line x1="582.50" y1="57.50" x2="600.00" y2="57.50" stroke="#666" stroke-width="0.9"/>
<line x1="617.00" y1="57.50" x2="634.50" y2="57.50" stroke="#666" stroke-width="0.9"/>
<text x="0" y="0" text-anchor="middle" stroke="#000" transform="translate(559.00,96.00) rotate(-90)">P &lt; 0.0001</text>
<text x="0" y="0" text-anchor="middle" stroke="#000" transform="translate(592.20,85.00) rotate(-90)">P &lt; 0.0001</text>
<text x="0" y="0" text-anchor="middle" stroke="#000" transform="translate(624.50,92.80) rotate(-90)">P &lt; 0.0001</text>
<text x="0" y="0" text-anchor="middle" stroke="#000" transform="translate(525.30,82.00) rotate(-90)">LDH release</text>
<text x="562.00" y="183.00" text-anchor="middle" stroke="#000">CT26</text>
<text x="594.50" y="183.00" text-anchor="middle" stroke="#000">EMT6</text>
<text x="627.00" y="183.00" text-anchor="middle" stroke="#000">4T1</text>
<text x="339.50" y="213.40" stroke="#000" font-weight="bold" font-size="15">c</text>
<rect x="362.30" y="245.30" width="324.00" height="286.00" fill="#fff" stroke="#9a9a9a" stroke-width="1.0"/>
<text x="0" y="0" text-anchor="middle" stroke="#000" transform="translate(389.50,294.00) rotate(-90)">inside the cells</text>
<rect x="409.80" y="274.40" width="5.60" height="5.60" fill="#fff" stroke="#858585" stroke-width="1.5"/>
<text x="429.50" y="280.80" fill="#8a8a8a" stroke="#8a8a8a" font-size="10">Cystine/GSH/GPX4 axis</text>
<path d="M441 312.3 Q428 309 424 296" fill="none" stroke="#111" stroke-width="1.6"/>
<path d="M420.2 297.2 L422.8 290.8 L427.4 295.8 Z" fill="#111"/>
<text x="448.20" y="322.40" stroke="#000" font-size="10">RSL3</text>
<path d="M511 288.5 Q526 298 533 309" fill="none" stroke="#111" stroke-width="1.7" stroke-dasharray="4.5 3"/>
<path d="M535 318 Q531 330 524 336" fill="none" stroke="#111" stroke-width="1.7" stroke-dasharray="4.5 3"/>
<path d="M520.2 333.5 L521.0 340.8 L527.6 338.0 Z" fill="#111"/>
<path d="M527.5 309.5 L542 316.5" fill="none" stroke="#ff1010" stroke-width="2.6"/>
<path d="M535.5 304.5 L533.8 320.5" fill="none" stroke="#ff1010" stroke-width="2.6"/>
<text x="544.50" y="314.00" stroke="#000" font-size="10">reduction</text>
<rect x="380.00" y="345.50" width="299.50" height="25.80" fill="#bfbfbf" stroke="#8a8a8a" stroke-width="1.0"/>
<text x="398.00" y="363.00" fill="#3a3aff" stroke="#3a3aff" font-size="10">VCAM-1</text>
<text x="490.50" y="362.50" fill="#ff1a1a" stroke="#ff1a1a" font-size="10">Lipid peroxidation</text>
<path d="M417.6 371.8 A15.4 19.5 0 0 0 433 391.3 L433 387.2 A11.3 15.4 0 0 1 421.7 371.8 Z" fill="#ffc000" stroke="#3a3a3a" stroke-width="0.5"/>
<path d="M540.6 371.8 A14.6 19.3 0 0 1 526 391.1 L526 387.0 A10.6 15.2 0 0 0 536.6 371.8 Z" fill="#ffc000" stroke="#3a3a3a" stroke-width="0.5"/>
<rect x="433.70" y="374.30" width="92.30" height="74.70" fill="url(#gbox)" stroke="#5e8c44" stroke-width="1.6"/>
<rect x="563.80" y="449.30" width="92.00" height="75.30" fill="url(#gbox2)" stroke="#5e8c44" stroke-width="1.6"/>
<path d="M479.6 304.2 V418" fill="none" stroke="#111" stroke-width="1.6" stroke-dasharray="1.4 3.3 8.6 3.3"/>
<path d="M475.7 300.2 L479.6 291.4 L483.5 300.2 Z" fill="#111"/>
<line x1="449.50" y1="384.50" x2="449.50" y2="372.50" stroke="#111" stroke-width="1.6"/>
<path d="M446.80 374.0 L449.50 367.6 L452.20 374.0 Z" fill="#111"/>
<line x1="469.50" y1="384.50" x2="469.50" y2="372.50" stroke="#111" stroke-width="1.6"/>
<path d="M466.80 374.0 L469.50 367.6 L472.20 374.0 Z" fill="#111"/>
<line x1="489.50" y1="384.50" x2="489.50" y2="372.50" stroke="#111" stroke-width="1.6"/>
<path d="M486.80 374.0 L489.50 367.6 L492.20 374.0 Z" fill="#111"/>
<line x1="509.90" y1="384.50" x2="509.90" y2="372.50" stroke="#111" stroke-width="1.6"/>
<path d="M507.20 374.0 L509.90 367.6 L512.60 374.0 Z" fill="#111"/>
<text x="458.10" y="394.50" text-anchor="middle" fill="#ff1a1a" stroke="#ff1a1a" font-size="10">ROS</text>
<text x="502.30" y="394.50" text-anchor="middle" fill="#ff1a1a" stroke="#ff1a1a" font-size="10">ROS</text>
<text x="397.50" y="401.00" fill="#3a3aff" stroke="#3a3aff" font-size="10">integrin</text>
<text x="0" y="0" text-anchor="middle" stroke="#000" transform="translate(389.20,429.50) rotate(-90)">outside the cells</text>
<path d="M470 422.5 Q456 418 453.8 406" fill="none" stroke="#111" stroke-width="1.6"/>
<path d="M450.4 407.2 L453.2 400.8 L457.2 406.4 Z" fill="#111"/>
<path d="M487 422.5 Q501 418 503.8 406" fill="none" stroke="#111" stroke-width="1.6"/>
<path d="M500.4 406.4 L504.6 400.8 L507.2 407.2 Z" fill="#111"/>
<text x="479.80" y="439.00" text-anchor="middle" stroke="#000" font-weight="bold" font-size="10">TIOs</text>
<path d="M516.40 406.10 L521.90 412.30 L516.40 417.10 L518.00 419.70 L513.00 425.10 L513.80 426.90 L501.30 436.60 L508.80 423.40 L507.90 421.80 L512.40 416.40 L511.50 414.60 Z" fill="#ff0000" stroke="#000" stroke-width="0.9" stroke-linejoin="miter"/>
<text x="427.00" y="466.00" stroke="#000" font-size="10">antigens directed binding</text>
<path d="M599.8 456 V383" fill="none" stroke="#b4b4b4" stroke-width="1.8" stroke-dasharray="6 3"/>
<path d="M597.00 384 L599.80 377 L602.60 384 Z" fill="#b4b4b4"/>
<path d="M619.6 456 V383" fill="none" stroke="#b4b4b4" stroke-width="1.8" stroke-dasharray="6 3"/>
<path d="M616.80 384 L619.60 377 L622.40 384 Z" fill="#b4b4b4"/>
<path d="M638.4 456 V383" fill="none" stroke="#b4b4b4" stroke-width="1.8" stroke-dasharray="6 3"/>
<path d="M635.60 384 L638.40 377 L641.20 384 Z" fill="#b4b4b4"/>
<line x1="579.50" y1="458.50" x2="579.50" y2="381.00" stroke="#111" stroke-width="1.6"/>
<path d="M576.7 382.5 L579.5 375.6 L582.3 382.5 Z" fill="#111"/>
<text x="600.90" y="398.50" text-anchor="middle" stroke="#000" font-size="12.8">X</text>
<text x="619.40" y="398.00" text-anchor="middle" stroke="#000" font-size="12.8">X</text>
<text x="644.70" y="398.80" text-anchor="middle" stroke="#000" font-size="12.8">X</text>
<text x="620.00" y="415.00" text-anchor="middle" stroke="#000" font-size="10">reductive</text>
<text x="620.00" y="426.50" text-anchor="middle" stroke="#000" font-size="10">species in</text>
<text x="620.00" y="438.00" text-anchor="middle" stroke="#000" font-size="10">environment</text>
<path d="M652.5 378.6 H656.8 V444.4 H652.5" fill="none" stroke="#111" stroke-width="1.1"/>
<text x="0" y="0" text-anchor="middle" stroke="#000" font-size="10" transform="translate(661.00,410.60) rotate(90)">distance</text>
<text x="583.50" y="467.50" text-anchor="middle" fill="#ff1a1a" stroke="#ff1a1a" font-size="10">ROS</text>
<text x="610.80" y="467.50" text-anchor="middle" fill="#ff1a1a" stroke="#ff1a1a" font-size="10">ROS</text>
<text x="637.10" y="467.50" text-anchor="middle" fill="#ff1a1a" stroke="#ff1a1a" font-size="10">ROS</text>
<path d="M600.5 497 Q587 493 584.3 483" fill="none" stroke="#111" stroke-width="1.6"/>
<path d="M580.8 484.2 L583.6 477.6 L587.6 483.4 Z" fill="#111"/>
<path d="M617.5 497 Q631 493 634.4 483" fill="none" stroke="#111" stroke-width="1.6"/>
<path d="M631 483.4 L635.2 477.6 L637.8 484.2 Z" fill="#111"/>
<text x="610.30" y="514.00" text-anchor="middle" stroke="#000" font-weight="bold" font-size="10">TIOs</text>
<path d="M646.40 480.40 L651.90 486.60 L646.40 491.40 L648.00 494.00 L643.00 499.40 L643.80 501.20 L631.30 510.90 L638.80 497.70 L637.90 496.10 L642.40 490.70 L641.50 488.90 Z" fill="#ff0000" stroke="#000" stroke-width="0.9" stroke-linejoin="miter"/>
<text x="34.20" y="611.40" stroke="#000" font-weight="bold" font-size="15">d</text>
<text x="138.20" y="624.00" text-anchor="middle" stroke="#000">4T1</text>
<line x1="59.20" y1="630.50" x2="225.00" y2="630.50" stroke="#999" stroke-width="1.0"/>
<rect x="61.70" y="635.00" width="15.00" height="5.30" fill="#fff" stroke="#ff1a1a" stroke-width="1.2"/>
<text x="87.50" y="641.00" stroke="#000">TIOs bound 4T1 cells + NIR</text>
<rect x="73.85" y="668.59" width="7.20" height="77.31" fill="#fff" stroke="#1a1a1a" stroke-width="1.3"/>
<line x1="77.45" y1="667.79" x2="77.45" y2="668.59" stroke="#1a1a1a" stroke-width="1.3"/>
<line x1="74.95" y1="667.79" x2="79.95" y2="667.79" stroke="#1a1a1a" stroke-width="1.3"/>
<circle cx="76.45" cy="668.59" r="1.45" fill="#1a1a1a"/>
<circle cx="78.45" cy="668.19" r="1.45" fill="#1a1a1a"/>
<rect x="86.55" y="668.99" width="6.80" height="76.91" fill="#fff" stroke="#1a1a1a" stroke-width="1.3"/>
<line x1="89.95" y1="668.19" x2="89.95" y2="668.99" stroke="#1a1a1a" stroke-width="1.3"/>
<line x1="87.45" y1="668.19" x2="92.45" y2="668.19" stroke="#1a1a1a" stroke-width="1.3"/>
<circle cx="89.95" cy="668.99" r="1.45" fill="#1a1a1a"/>
<circle cx="91.45" cy="668.59" r="1.45" fill="#1a1a1a"/>
<rect x="99.25" y="669.79" width="6.80" height="76.11" fill="#fff" stroke="#1a1a1a" stroke-width="1.3"/>
<line x1="102.65" y1="666.60" x2="102.65" y2="669.79" stroke="#1a1a1a" stroke-width="1.3"/>
<line x1="100.15" y1="666.60" x2="105.15" y2="666.60" stroke="#1a1a1a" stroke-width="1.3"/>
<circle cx="101.65" cy="671.38" r="1.45" fill="#1a1a1a"/>
<circle cx="103.65" cy="668.59" r="1.45" fill="#1a1a1a"/>
<rect x="111.35" y="726.37" width="6.80" height="19.53" fill="#fff" stroke="#ff1a1a" stroke-width="1.3"/>
<line x1="114.75" y1="723.58" x2="114.75" y2="726.37" stroke="#ff1a1a" stroke-width="1.3"/>
<line x1="112.25" y1="723.58" x2="117.25" y2="723.58" stroke="#ff1a1a" stroke-width="1.3"/>
<circle cx="114.75" cy="729.16" r="1.45" fill="#ff1a1a"/>
<circle cx="115.25" cy="724.38" r="1.45" fill="#ff1a1a"/>
<line x1="69.30" y1="665.50" x2="69.30" y2="746.60" stroke="#1a1a1a" stroke-width="1.4"/>
<line x1="66.50" y1="745.90" x2="69.30" y2="745.90" stroke="#1a1a1a" stroke-width="1.4"/>
<text x="62.70" y="747.40" text-anchor="end" stroke="#000">0</text>
<line x1="66.50" y1="725.98" x2="69.30" y2="725.98" stroke="#1a1a1a" stroke-width="1.4"/>
<text x="64.90" y="729.48" text-anchor="end" stroke="#000">25</text>
<line x1="66.50" y1="706.05" x2="69.30" y2="706.05" stroke="#1a1a1a" stroke-width="1.4"/>
<text x="64.90" y="709.55" text-anchor="end" stroke="#000">50</text>
<line x1="66.50" y1="686.12" x2="69.30" y2="686.12" stroke="#1a1a1a" stroke-width="1.4"/>
<text x="64.90" y="689.62" text-anchor="end" stroke="#000">75</text>
<line x1="66.50" y1="666.20" x2="69.30" y2="666.20" stroke="#1a1a1a" stroke-width="1.4"/>
<text x="64.90" y="669.70" text-anchor="end" stroke="#000">100</text>
<line x1="66.10" y1="745.90" x2="123.00" y2="745.90" stroke="#1a1a1a" stroke-width="1.4"/>
<line x1="77.40" y1="745.90" x2="77.40" y2="748.90" stroke="#1a1a1a" stroke-width="1.4"/>
<line x1="89.90" y1="745.90" x2="89.90" y2="748.90" stroke="#1a1a1a" stroke-width="1.4"/>
<line x1="102.60" y1="745.90" x2="102.60" y2="748.90" stroke="#1a1a1a" stroke-width="1.4"/>
<line x1="114.70" y1="745.90" x2="114.70" y2="748.90" stroke="#1a1a1a" stroke-width="1.4"/>
<text x="73.70" y="655.80" stroke="#000">P &lt; 0.0001</text>
<path d="M73.7 658.8 H113.7 V719" fill="none" stroke="#666" stroke-width="0.9"/>
<text x="0" y="0" text-anchor="middle" stroke="#000" transform="translate(44.30,707.70) rotate(-90)">Cell viability (%)</text>
<text x="66.50" y="758.40" text-anchor="end" stroke="#000">Trolox</text>
<text x="66.00" y="771.40" text-anchor="end" stroke="#000">Ferrostatin-1</text>
<text x="66.80" y="785.10" text-anchor="end" stroke="#000">Liproxstatin-1</text>
<text x="77.40" y="758.40" text-anchor="middle" stroke="#000">-</text>
<text x="89.10" y="758.40" text-anchor="middle" stroke="#000">-</text>
<text x="102.20" y="758.40" text-anchor="middle" stroke="#000">+</text>
<text x="114.30" y="758.40" text-anchor="middle" stroke="#000">-</text>
<text x="77.40" y="771.40" text-anchor="middle" stroke="#000">+</text>
<text x="89.10" y="771.40" text-anchor="middle" stroke="#000">-</text>
<text x="102.20" y="771.40" text-anchor="middle" stroke="#000">-</text>
<text x="114.30" y="771.40" text-anchor="middle" stroke="#000">-</text>
<text x="77.40" y="785.10" text-anchor="middle" stroke="#000">-</text>
<text x="89.10" y="785.10" text-anchor="middle" stroke="#000">+</text>
<text x="102.20" y="785.10" text-anchor="middle" stroke="#000">-</text>
<text x="114.30" y="785.10" text-anchor="middle" stroke="#000">-</text>
<rect x="180.15" y="740.48" width="6.40" height="4.52" fill="#fff" stroke="#1a1a1a" stroke-width="1.3"/>
<line x1="183.35" y1="740.48" x2="183.35" y2="740.48" stroke="#1a1a1a" stroke-width="1.3"/>
<line x1="180.85" y1="740.48" x2="185.85" y2="740.48" stroke="#1a1a1a" stroke-width="1.3"/>
<circle cx="182.35" cy="740.48" r="1.45" fill="#1a1a1a"/>
<circle cx="184.35" cy="740.48" r="1.45" fill="#1a1a1a"/>
<rect x="192.35" y="741.99" width="6.20" height="3.01" fill="#fff" stroke="#1a1a1a" stroke-width="1.3"/>
<line x1="195.45" y1="738.98" x2="195.45" y2="741.99" stroke="#1a1a1a" stroke-width="1.3"/>
<line x1="192.95" y1="738.98" x2="197.95" y2="738.98" stroke="#1a1a1a" stroke-width="1.3"/>
<circle cx="195.45" cy="742.99" r="1.45" fill="#1a1a1a"/>
<circle cx="196.45" cy="740.98" r="1.45" fill="#1a1a1a"/>
<rect x="205.15" y="743.29" width="5.90" height="1.71" fill="#fff" stroke="#1a1a1a" stroke-width="1.3"/>
<line x1="208.10" y1="741.49" x2="208.10" y2="743.29" stroke="#1a1a1a" stroke-width="1.3"/>
<line x1="205.60" y1="741.49" x2="210.60" y2="741.49" stroke="#1a1a1a" stroke-width="1.3"/>
<circle cx="208.10" cy="742.49" r="1.45" fill="#1a1a1a"/>
<circle cx="209.10" cy="744.00" r="1.45" fill="#1a1a1a"/>
<rect x="216.85" y="677.03" width="6.70" height="67.97" fill="#fff" stroke="#ff1a1a" stroke-width="1.3"/>
<line x1="220.20" y1="671.71" x2="220.20" y2="677.03" stroke="#ff1a1a" stroke-width="1.3"/>
<line x1="217.70" y1="671.71" x2="222.70" y2="671.71" stroke="#ff1a1a" stroke-width="1.3"/>
<circle cx="220.20" cy="681.75" r="1.45" fill="#ff1a1a"/>
<circle cx="220.20" cy="671.71" r="1.45" fill="#ff1a1a"/>
<line x1="174.70" y1="663.98" x2="174.70" y2="745.70" stroke="#1a1a1a" stroke-width="1.4"/>
<line x1="172.20" y1="745.00" x2="174.70" y2="745.00" stroke="#1a1a1a" stroke-width="1.4"/>
<text x="171.40" y="748.50" text-anchor="end" stroke="#000">0</text>
<line x1="172.20" y1="724.92" x2="174.70" y2="724.92" stroke="#1a1a1a" stroke-width="1.4"/>
<text x="171.40" y="728.42" text-anchor="end" stroke="#000">20</text>
<line x1="172.20" y1="704.84" x2="174.70" y2="704.84" stroke="#1a1a1a" stroke-width="1.4"/>
<text x="171.40" y="708.34" text-anchor="end" stroke="#000">40</text>
<line x1="172.20" y1="684.76" x2="174.70" y2="684.76" stroke="#1a1a1a" stroke-width="1.4"/>
<text x="171.40" y="688.26" text-anchor="end" stroke="#000">60</text>
<line x1="172.20" y1="664.68" x2="174.70" y2="664.68" stroke="#1a1a1a" stroke-width="1.4"/>
<text x="171.40" y="668.18" text-anchor="end" stroke="#000">80</text>
<line x1="174.00" y1="745.00" x2="228.30" y2="745.00" stroke="#1a1a1a" stroke-width="1.4"/>
<line x1="183.30" y1="745.00" x2="183.30" y2="748.00" stroke="#1a1a1a" stroke-width="1.4"/>
<line x1="195.40" y1="745.00" x2="195.40" y2="748.00" stroke="#1a1a1a" stroke-width="1.4"/>
<line x1="208.10" y1="745.00" x2="208.10" y2="748.00" stroke="#1a1a1a" stroke-width="1.4"/>
<line x1="220.20" y1="745.00" x2="220.20" y2="748.00" stroke="#1a1a1a" stroke-width="1.4"/>
<text x="175.80" y="656.70" stroke="#000">P &lt; 0.0001</text>
<line x1="177.20" y1="659.50" x2="220.80" y2="659.50" stroke="#888" stroke-width="0.9"/>
<text x="0" y="0" text-anchor="middle" stroke="#000" transform="translate(154.00,701.50) rotate(-90)">LDH release (%)</text>
<text x="181.80" y="757.40" text-anchor="middle" stroke="#000">-</text>
<text x="194.70" y="757.40" text-anchor="middle" stroke="#000">-</text>
<text x="207.60" y="757.40" text-anchor="middle" stroke="#000">+</text>
<text x="219.70" y="757.40" text-anchor="middle" stroke="#000">-</text>
<text x="181.80" y="769.60" text-anchor="middle" stroke="#000">+</text>
<text x="194.70" y="769.60" text-anchor="middle" stroke="#000">-</text>
<text x="207.60" y="769.60" text-anchor="middle" stroke="#000">-</text>
<text x="219.70" y="769.60" text-anchor="middle" stroke="#000">-</text>
<text x="181.80" y="783.50" text-anchor="middle" stroke="#000">-</text>
<text x="194.70" y="783.50" text-anchor="middle" stroke="#000">+</text>
<text x="207.60" y="783.50" text-anchor="middle" stroke="#000">-</text>
<text x="219.70" y="783.50" text-anchor="middle" stroke="#000">-</text>
<text x="229.00" y="612.80" stroke="#000" font-weight="bold" font-size="15">e</text>
<text x="334.70" y="624.40" text-anchor="middle" stroke="#000">4T1</text>
<line x1="260.00" y1="630.50" x2="417.00" y2="630.50" stroke="#999" stroke-width="1.0"/>
<rect x="262.70" y="636.00" width="15.10" height="5.40" fill="#fff" stroke="#ff1a1a" stroke-width="1.2"/>
<text x="288.30" y="642.50" stroke="#000">TIOs bound 4T1 cells + NIR</text>
<rect x="293.95" y="713.90" width="8.70" height="26.40" fill="#fff" stroke="#1a1a1a" stroke-width="1.3"/>
<line x1="298.30" y1="709.57" x2="298.30" y2="713.90" stroke="#1a1a1a" stroke-width="1.3"/>
<line x1="295.80" y1="709.57" x2="300.80" y2="709.57" stroke="#1a1a1a" stroke-width="1.3"/>
<circle cx="298.30" cy="716.66" r="1.45" fill="#1a1a1a"/>
<circle cx="298.30" cy="710.36" r="1.45" fill="#1a1a1a"/>
<rect x="308.45" y="720.99" width="9.20" height="19.31" fill="#fff" stroke="#ff1a1a" stroke-width="1.3"/>
<line x1="313.05" y1="717.84" x2="313.05" y2="720.99" stroke="#ff1a1a" stroke-width="1.3"/>
<line x1="310.55" y1="717.84" x2="315.55" y2="717.84" stroke="#ff1a1a" stroke-width="1.3"/>
<circle cx="313.05" cy="723.36" r="1.45" fill="#ff1a1a"/>
<circle cx="313.05" cy="719.02" r="1.45" fill="#ff1a1a"/>
<line x1="288.00" y1="660.80" x2="288.00" y2="741.00" stroke="#1a1a1a" stroke-width="1.4"/>
<line x1="285.50" y1="740.30" x2="288.00" y2="740.30" stroke="#1a1a1a" stroke-width="1.4"/>
<text x="282.60" y="743.80" text-anchor="end" stroke="#000">0</text>
<line x1="285.50" y1="720.60" x2="288.00" y2="720.60" stroke="#1a1a1a" stroke-width="1.4"/>
<text x="282.60" y="724.10" text-anchor="end" stroke="#000">25</text>
<line x1="285.50" y1="700.90" x2="288.00" y2="700.90" stroke="#1a1a1a" stroke-width="1.4"/>
<text x="282.60" y="704.40" text-anchor="end" stroke="#000">50</text>
<line x1="285.50" y1="681.20" x2="288.00" y2="681.20" stroke="#1a1a1a" stroke-width="1.4"/>
<text x="282.60" y="684.70" text-anchor="end" stroke="#000">75</text>
<line x1="285.50" y1="661.50" x2="288.00" y2="661.50" stroke="#1a1a1a" stroke-width="1.4"/>
<text x="282.60" y="665.00" text-anchor="end" stroke="#000">100</text>
<line x1="287.30" y1="740.30" x2="323.30" y2="740.30" stroke="#1a1a1a" stroke-width="1.4"/>
<line x1="298.30" y1="740.30" x2="298.30" y2="743.30" stroke="#1a1a1a" stroke-width="1.4"/>
<line x1="313.00" y1="740.30" x2="313.00" y2="743.30" stroke="#1a1a1a" stroke-width="1.4"/>
<text x="286.70" y="657.00" stroke="#000">P = 0.0810</text>
<line x1="290.80" y1="660.50" x2="319.70" y2="660.50" stroke="#555" stroke-width="0.9"/>
<text x="0" y="0" text-anchor="middle" stroke="#000" transform="translate(260.60,699.00) rotate(-90)">Cell viability (%)</text>
<text x="250.00" y="756.70" stroke="#000">z-VAD</text>
<text x="298.30" y="756.70" text-anchor="middle" stroke="#000">+</text>
<text x="313.30" y="756.70" text-anchor="middle" stroke="#000">-</text>
<rect x="378.95" y="680.90" width="8.20" height="59.10" fill="#fff" stroke="#1a1a1a" stroke-width="1.3"/>
<line x1="383.05" y1="678.44" x2="383.05" y2="680.90" stroke="#1a1a1a" stroke-width="1.3"/>
<line x1="380.55" y1="678.44" x2="385.55" y2="678.44" stroke="#1a1a1a" stroke-width="1.3"/>
<circle cx="383.05" cy="682.87" r="1.45" fill="#1a1a1a"/>
<circle cx="383.05" cy="679.91" r="1.45" fill="#1a1a1a"/>
<rect x="393.65" y="673.02" width="8.50" height="66.98" fill="#fff" stroke="#ff1a1a" stroke-width="1.3"/>
<line x1="397.90" y1="668.10" x2="397.90" y2="673.02" stroke="#ff1a1a" stroke-width="1.3"/>
<line x1="395.40" y1="668.10" x2="400.40" y2="668.10" stroke="#ff1a1a" stroke-width="1.3"/>
<circle cx="397.90" cy="677.45" r="1.45" fill="#ff1a1a"/>
<circle cx="397.90" cy="671.05" r="1.45" fill="#ff1a1a"/>
<line x1="372.80" y1="660.50" x2="372.80" y2="740.70" stroke="#1a1a1a" stroke-width="1.4"/>
<line x1="370.30" y1="740.00" x2="372.80" y2="740.00" stroke="#1a1a1a" stroke-width="1.4"/>
<text x="368.20" y="743.50" text-anchor="end" stroke="#000">0</text>
<line x1="370.30" y1="720.30" x2="372.80" y2="720.30" stroke="#1a1a1a" stroke-width="1.4"/>
<text x="368.20" y="723.80" text-anchor="end" stroke="#000">20</text>
<line x1="370.30" y1="700.60" x2="372.80" y2="700.60" stroke="#1a1a1a" stroke-width="1.4"/>
<text x="368.20" y="704.10" text-anchor="end" stroke="#000">40</text>
<line x1="370.30" y1="680.90" x2="372.80" y2="680.90" stroke="#1a1a1a" stroke-width="1.4"/>
<text x="368.20" y="684.40" text-anchor="end" stroke="#000">60</text>
<line x1="370.30" y1="661.20" x2="372.80" y2="661.20" stroke="#1a1a1a" stroke-width="1.4"/>
<text x="368.20" y="664.70" text-anchor="end" stroke="#000">80</text>
<line x1="372.10" y1="740.00" x2="407.50" y2="740.00" stroke="#1a1a1a" stroke-width="1.4"/>
<line x1="382.80" y1="740.00" x2="382.80" y2="743.00" stroke="#1a1a1a" stroke-width="1.4"/>
<line x1="397.80" y1="740.00" x2="397.80" y2="743.00" stroke="#1a1a1a" stroke-width="1.4"/>
<text x="374.50" y="656.70" stroke="#000">P = 0.0591</text>
<line x1="377.00" y1="660.50" x2="403.30" y2="660.50" stroke="#555" stroke-width="0.9"/>
<text x="0" y="0" text-anchor="middle" stroke="#000" transform="translate(350.60,700.00) rotate(-90)">LDH release (%)</text>
<text x="382.80" y="754.00" text-anchor="middle" stroke="#000">+</text>
<text x="397.80" y="754.00" text-anchor="middle" stroke="#000">-</text>
<text x="459.00" y="604.40" stroke="#000" font-weight="bold" font-size="15">f</text>
<text x="504.70" y="612.50" stroke="#000">TIOs bound 4T1</text>
<line x1="506.30" y1="616.50" x2="587.70" y2="616.50" stroke="#333" stroke-width="1.0"/>
<rect x="532.05" y="664.33" width="19.20" height="86.77" fill="#fff" stroke="#1a1a1a" stroke-width="1.3"/>
<line x1="541.65" y1="649.19" x2="541.65" y2="664.33" stroke="#1a1a1a" stroke-width="1.3"/>
<line x1="536.65" y1="649.19" x2="546.65" y2="649.19" stroke="#1a1a1a" stroke-width="1.3"/>
<circle cx="541.65" cy="673.41" r="1.45" fill="#1a1a1a"/>
<circle cx="541.65" cy="671.39" r="1.45" fill="#1a1a1a"/>
<circle cx="541.65" cy="647.17" r="1.45" fill="#1a1a1a"/>
<rect x="563.95" y="719.82" width="19.00" height="31.28" fill="#fff" stroke="#ff1a1a" stroke-width="1.3"/>
<line x1="573.45" y1="708.32" x2="573.45" y2="719.82" stroke="#ff1a1a" stroke-width="1.3"/>
<line x1="567.45" y1="708.32" x2="579.45" y2="708.32" stroke="#ff1a1a" stroke-width="1.3"/>
<circle cx="573.45" cy="732.94" r="1.45" fill="#ff1a1a"/>
<circle cx="573.45" cy="713.77" r="1.45" fill="#ff1a1a"/>
<circle cx="573.45" cy="710.74" r="1.45" fill="#ff1a1a"/>
<line x1="520.30" y1="629.32" x2="520.30" y2="751.80" stroke="#1a1a1a" stroke-width="1.4"/>
<line x1="515.50" y1="751.10" x2="520.30" y2="751.10" stroke="#1a1a1a" stroke-width="1.4"/>
<text x="510.70" y="754.60" text-anchor="end" stroke="#000">0</text>
<line x1="515.50" y1="710.74" x2="520.30" y2="710.74" stroke="#1a1a1a" stroke-width="1.4"/>
<text x="510.70" y="714.24" text-anchor="end" stroke="#000">0.2</text>
<line x1="515.50" y1="670.38" x2="520.30" y2="670.38" stroke="#1a1a1a" stroke-width="1.4"/>
<text x="508.80" y="673.88" text-anchor="end" stroke="#000">0.4</text>
<line x1="515.50" y1="630.02" x2="520.30" y2="630.02" stroke="#1a1a1a" stroke-width="1.4"/>
<text x="508.30" y="633.52" text-anchor="end" stroke="#000">0.6</text>
<line x1="515.00" y1="751.10" x2="595.50" y2="751.10" stroke="#1a1a1a" stroke-width="1.4"/>
<line x1="541.60" y1="751.10" x2="541.60" y2="756.10" stroke="#1a1a1a" stroke-width="1.4"/>
<line x1="573.40" y1="751.10" x2="573.40" y2="756.10" stroke="#1a1a1a" stroke-width="1.4"/>
<text x="534.50" y="634.20" stroke="#000">P = 0.0074</text>
<line x1="539.00" y1="638.50" x2="573.70" y2="638.50" stroke="#333" stroke-width="0.9"/>
<text x="0" y="0" text-anchor="middle" stroke="#000" transform="translate(475.30,691.20) rotate(-90)">Relative expression levels</text>
<text x="0" y="0" text-anchor="middle" stroke="#000" transform="translate(486.70,690.70) rotate(-90)">(GPX4/β-actin)</text>
<text x="497.20" y="768.30" stroke="#000">NIR</text>
<text x="540.50" y="768.50" text-anchor="middle" stroke="#000">-</text>
<text x="573.30" y="768.50" text-anchor="middle" stroke="#000">+</text>
<text x="0" y="0" stroke="#000" transform="translate(610.40,693.20) rotate(-44.5)">TIOs bound 4T1</text>
<text x="0" y="0" stroke="#000" font-size="10.2" transform="translate(645.60,694.60) rotate(-45)">TIOs bound 4T1 +NIR</text>
<line x1="599.50" y1="697.00" x2="599.50" y2="749.50" stroke="#222" stroke-width="1.0"/>
<text x="0" y="0" text-anchor="middle" stroke="#000" transform="translate(595.60,724.30) rotate(-90)">4T1</text>
<rect x="602.30" y="720.50" width="62.50" height="4.50" fill="#6a6a6a"/>
<rect x="602.90" y="697.50" width="61.40" height="23.50" fill="#e8e8e8" stroke="#1a1a1a" stroke-width="1.3"/>
<rect x="602.90" y="724.50" width="61.40" height="23.80" fill="#e8e8e8" stroke="#1a1a1a" stroke-width="1.3"/>
<g filter="url(#bl)">
<path d="M607.6 703.5 Q607.5 701.6 609.5 702.3 L613.6 704.6 Q616 703.8 622 704.6 Q629.6 706 629.8 710 Q629.6 713.6 625.5 713.5 Q618 713 612 712 Q607.6 711.2 607.6 708 Z" fill="#050505"/>
<path d="M636 709.5 Q636 706.7 642 706.8 Q648 707.5 654 706.7 Q660.2 706.8 660.2 709.8 Q660.2 712.8 654 712.8 Q648 712 642 712.8 Q636 712.8 636 709.5 Z" fill="#5a5a5a"/>
<ellipse cx="640" cy="709.8" rx="3.5" ry="2.5" fill="#404040"/>
<ellipse cx="656" cy="709.8" rx="3.5" ry="2.5" fill="#404040"/>
<rect x="606.8" y="733.3" width="24.8" height="5.5" rx="2.75" fill="#080808"/>
<rect x="635.6" y="732.7" width="24.6" height="5.2" rx="2.6" fill="#080808"/>
</g>
<text x="669.30" y="714.00" stroke="#000">23 kDa</text>
<text x="670.40" y="739.40" stroke="#000">42 kDa</text>
<text x="633.30" y="760.00" text-anchor="middle" stroke="#000">β-actin</text>
<text x="11.20" y="823.30" stroke="#000" font-weight="bold" font-size="15">g</text>
<rect x="45.05" y="858.29" width="14.00" height="67.51" fill="#fff" stroke="#1a1a1a" stroke-width="1.3"/>
<line x1="52.05" y1="857.43" x2="52.05" y2="858.29" stroke="#1a1a1a" stroke-width="1.3"/>
<line x1="49.55" y1="857.43" x2="54.55" y2="857.43" stroke="#1a1a1a" stroke-width="1.3"/>
<circle cx="50.05" cy="858.29" r="1.45" fill="#1a1a1a"/>
<circle cx="52.05" cy="857.86" r="1.45" fill="#1a1a1a"/>
<circle cx="54.05" cy="858.29" r="1.45" fill="#1a1a1a"/>
<rect x="69.05" y="905.16" width="14.10" height="20.64" fill="#fff" stroke="#ff1a1a" stroke-width="1.3"/>
<line x1="76.10" y1="901.29" x2="76.10" y2="905.16" stroke="#ff1a1a" stroke-width="1.3"/>
<line x1="73.60" y1="901.29" x2="78.60" y2="901.29" stroke="#ff1a1a" stroke-width="1.3"/>
<circle cx="76.10" cy="908.17" r="1.45" fill="#ff1a1a"/>
<circle cx="76.10" cy="902.58" r="1.45" fill="#ff1a1a"/>
<line x1="35.50" y1="839.10" x2="35.50" y2="926.50" stroke="#1a1a1a" stroke-width="1.4"/>
<line x1="31.00" y1="925.80" x2="35.50" y2="925.80" stroke="#1a1a1a" stroke-width="1.4"/>
<text x="27.60" y="926.50" text-anchor="end" stroke="#000">0</text>
<line x1="31.00" y1="908.60" x2="35.50" y2="908.60" stroke="#1a1a1a" stroke-width="1.4"/>
<text x="27.60" y="909.30" text-anchor="end" stroke="#000">20</text>
<line x1="31.00" y1="891.40" x2="35.50" y2="891.40" stroke="#1a1a1a" stroke-width="1.4"/>
<text x="27.60" y="892.10" text-anchor="end" stroke="#000">40</text>
<line x1="31.00" y1="874.20" x2="35.50" y2="874.20" stroke="#1a1a1a" stroke-width="1.4"/>
<text x="27.60" y="874.90" text-anchor="end" stroke="#000">60</text>
<line x1="31.00" y1="857.00" x2="35.50" y2="857.00" stroke="#1a1a1a" stroke-width="1.4"/>
<text x="27.60" y="857.70" text-anchor="end" stroke="#000">80</text>
<line x1="31.00" y1="839.80" x2="35.50" y2="839.80" stroke="#1a1a1a" stroke-width="1.4"/>
<text x="27.60" y="842.30" text-anchor="end" stroke="#000">100</text>
<line x1="34.80" y1="925.80" x2="92.60" y2="925.80" stroke="#1a1a1a" stroke-width="1.4"/>
<line x1="51.70" y1="925.80" x2="51.70" y2="929.80" stroke="#1a1a1a" stroke-width="1.4"/>
<line x1="76.00" y1="925.80" x2="76.00" y2="929.80" stroke="#1a1a1a" stroke-width="1.4"/>
<text x="40.00" y="842.10" stroke="#000">P &lt; 0.0001</text>
<line x1="39.50" y1="848.50" x2="66.60" y2="848.50" stroke="#aaa" stroke-width="1.0"/>
<text x="0" y="0" text-anchor="middle" stroke="#000" transform="translate(7.20,883.30) rotate(-90)">Cell viability (%)</text>
<text x="0" y="0" stroke="#000" font-size="10.1" transform="translate(43.50,938.70) rotate(45)">TIOs (without RSL3)+NIR</text>
<text x="0" y="0" stroke="#000" font-size="10.1" transform="translate(73.30,938.80) rotate(45)">TIOs+ NIR</text>
<rect x="143.95" y="908.37" width="14.30" height="16.43" fill="#fff" stroke="#1a1a1a" stroke-width="1.3"/>
<line x1="151.10" y1="904.47" x2="151.10" y2="908.37" stroke="#1a1a1a" stroke-width="1.3"/>
<line x1="148.60" y1="904.47" x2="153.60" y2="904.47" stroke="#1a1a1a" stroke-width="1.3"/>
<circle cx="151.10" cy="912.69" r="1.45" fill="#1a1a1a"/>
<circle cx="151.10" cy="906.63" r="1.45" fill="#1a1a1a"/>
<rect x="167.95" y="866.41" width="14.50" height="58.39" fill="#fff" stroke="#ff1a1a" stroke-width="1.3"/>
<line x1="175.20" y1="862.09" x2="175.20" y2="866.41" stroke="#ff1a1a" stroke-width="1.3"/>
<line x1="172.70" y1="862.09" x2="177.70" y2="862.09" stroke="#ff1a1a" stroke-width="1.3"/>
<circle cx="175.20" cy="871.17" r="1.45" fill="#ff1a1a"/>
<circle cx="175.20" cy="863.38" r="1.45" fill="#ff1a1a"/>
<line x1="134.90" y1="837.60" x2="134.90" y2="925.50" stroke="#1a1a1a" stroke-width="1.4"/>
<line x1="130.40" y1="924.80" x2="134.90" y2="924.80" stroke="#1a1a1a" stroke-width="1.4"/>
<text x="127.40" y="925.80" text-anchor="end" stroke="#000">0</text>
<line x1="130.40" y1="907.50" x2="134.90" y2="907.50" stroke="#1a1a1a" stroke-width="1.4"/>
<text x="127.40" y="908.50" text-anchor="end" stroke="#000">20</text>
<line x1="130.40" y1="890.20" x2="134.90" y2="890.20" stroke="#1a1a1a" stroke-width="1.4"/>
<text x="127.40" y="891.20" text-anchor="end" stroke="#000">40</text>
<line x1="130.40" y1="872.90" x2="134.90" y2="872.90" stroke="#1a1a1a" stroke-width="1.4"/>
<text x="127.40" y="873.90" text-anchor="end" stroke="#000">60</text>
<line x1="130.40" y1="855.60" x2="134.90" y2="855.60" stroke="#1a1a1a" stroke-width="1.4"/>
<text x="127.40" y="856.60" text-anchor="end" stroke="#000">80</text>
<line x1="130.40" y1="838.30" x2="134.90" y2="838.30" stroke="#1a1a1a" stroke-width="1.4"/>
<text x="127.40" y="841.00" text-anchor="end" stroke="#000">100</text>
<line x1="134.20" y1="924.80" x2="191.50" y2="924.80" stroke="#1a1a1a" stroke-width="1.4"/>
<line x1="150.80" y1="924.80" x2="150.80" y2="928.80" stroke="#1a1a1a" stroke-width="1.4"/>
<line x1="175.00" y1="924.80" x2="175.00" y2="928.80" stroke="#1a1a1a" stroke-width="1.4"/>
<text x="140.00" y="840.60" stroke="#000">P &lt; 0.0001</text>
<line x1="139.00" y1="848.50" x2="165.80" y2="848.50" stroke="#aaa" stroke-width="1.0"/>
<text x="0" y="0" text-anchor="middle" stroke="#000" transform="translate(109.20,894.00) rotate(-90)">LDH release (%)</text>
<text x="0" y="0" stroke="#000" font-size="10.1" transform="translate(142.50,938.70) rotate(45)">TIOs (without RSL3)+NIR</text>
<text x="0" y="0" stroke="#000" font-size="10.1" transform="translate(172.30,938.80) rotate(45)">TIOs+ NIR</text>
<text x="239.80" y="830.80" stroke="#000" font-weight="bold" font-size="15">h</text>
<text x="299.00" y="836.70" stroke="#000">TIOs + 4T1 cells + NIR</text>
<line x1="261.00" y1="841.50" x2="440.20" y2="841.50" stroke="#333" stroke-width="1.0"/>
<rect x="284.05" y="874.70" width="13.10" height="82.00" fill="#fff" stroke="#1a1a1a" stroke-width="1.3"/>
<line x1="290.60" y1="872.65" x2="290.60" y2="874.70" stroke="#1a1a1a" stroke-width="1.3"/>
<line x1="288.10" y1="872.65" x2="293.10" y2="872.65" stroke="#1a1a1a" stroke-width="1.3"/>
<circle cx="290.60" cy="876.75" r="1.45" fill="#1a1a1a"/>
<circle cx="292.10" cy="873.68" r="1.45" fill="#1a1a1a"/>
<rect x="305.65" y="923.39" width="13.10" height="33.31" fill="#fff" stroke="#ff1a1a" stroke-width="1.3"/>
<line x1="312.20" y1="918.78" x2="312.20" y2="923.39" stroke="#ff1a1a" stroke-width="1.3"/>
<line x1="309.70" y1="918.78" x2="314.70" y2="918.78" stroke="#ff1a1a" stroke-width="1.3"/>
<circle cx="312.20" cy="926.98" r="1.45" fill="#ff1a1a"/>
<circle cx="312.20" cy="920.83" r="1.45" fill="#ff1a1a"/>
<line x1="276.00" y1="853.50" x2="276.00" y2="957.40" stroke="#1a1a1a" stroke-width="1.4"/>
<line x1="271.50" y1="956.70" x2="276.00" y2="956.70" stroke="#1a1a1a" stroke-width="1.4"/>
<text x="266.90" y="960.20" text-anchor="end" stroke="#000">0</text>
<line x1="271.50" y1="936.20" x2="276.00" y2="936.20" stroke="#1a1a1a" stroke-width="1.4"/>
<text x="263.90" y="939.70" text-anchor="end" stroke="#000">20</text>
<line x1="271.50" y1="915.70" x2="276.00" y2="915.70" stroke="#1a1a1a" stroke-width="1.4"/>
<text x="263.90" y="919.20" text-anchor="end" stroke="#000">40</text>
<line x1="271.50" y1="895.20" x2="276.00" y2="895.20" stroke="#1a1a1a" stroke-width="1.4"/>
<text x="263.90" y="898.70" text-anchor="end" stroke="#000">60</text>
<line x1="271.50" y1="874.70" x2="276.00" y2="874.70" stroke="#1a1a1a" stroke-width="1.4"/>
<text x="263.90" y="878.20" text-anchor="end" stroke="#000">80</text>
<line x1="271.50" y1="854.20" x2="276.00" y2="854.20" stroke="#1a1a1a" stroke-width="1.4"/>
<text x="263.40" y="857.70" text-anchor="end" stroke="#000">100</text>
<line x1="275.30" y1="956.70" x2="328.00" y2="956.70" stroke="#1a1a1a" stroke-width="1.4"/>
<line x1="290.40" y1="956.70" x2="290.40" y2="960.20" stroke="#1a1a1a" stroke-width="1.4"/>
<line x1="312.40" y1="956.70" x2="312.40" y2="960.20" stroke="#1a1a1a" stroke-width="1.4"/>
<text x="283.40" y="860.50" stroke="#000">P &lt; 0.0001</text>
<line x1="282.60" y1="864.50" x2="321.00" y2="864.50" stroke="#333" stroke-width="0.9"/>
<text x="0" y="0" text-anchor="middle" stroke="#000" transform="translate(247.30,896.00) rotate(-90)">Cell viability (%)</text>
<text x="291.60" y="972.00" text-anchor="middle" stroke="#000">+</text>
<text x="312.50" y="972.30" text-anchor="middle" stroke="#000">-</text>
<rect x="396.85" y="930.96" width="13.00" height="24.34" fill="#fff" stroke="#1a1a1a" stroke-width="1.3"/>
<line x1="403.35" y1="928.40" x2="403.35" y2="930.96" stroke="#1a1a1a" stroke-width="1.3"/>
<line x1="400.85" y1="928.40" x2="405.85" y2="928.40" stroke="#1a1a1a" stroke-width="1.3"/>
<circle cx="403.35" cy="933.52" r="1.45" fill="#1a1a1a"/>
<circle cx="403.35" cy="929.68" r="1.45" fill="#1a1a1a"/>
<rect x="418.95" y="877.80" width="12.90" height="77.50" fill="#fff" stroke="#ff1a1a" stroke-width="1.3"/>
<line x1="425.40" y1="873.96" x2="425.40" y2="877.80" stroke="#ff1a1a" stroke-width="1.3"/>
<line x1="422.90" y1="873.96" x2="427.90" y2="873.96" stroke="#ff1a1a" stroke-width="1.3"/>
<circle cx="425.40" cy="881.64" r="1.45" fill="#ff1a1a"/>
<line x1="388.70" y1="852.12" x2="388.70" y2="956.00" stroke="#1a1a1a" stroke-width="1.4"/>
<line x1="384.20" y1="955.30" x2="388.70" y2="955.30" stroke="#1a1a1a" stroke-width="1.4"/>
<text x="378.70" y="958.80" text-anchor="end" stroke="#000">0</text>
<line x1="384.20" y1="929.68" x2="388.70" y2="929.68" stroke="#1a1a1a" stroke-width="1.4"/>
<text x="378.70" y="933.18" text-anchor="end" stroke="#000">20</text>
<line x1="384.20" y1="904.06" x2="388.70" y2="904.06" stroke="#1a1a1a" stroke-width="1.4"/>
<text x="378.70" y="907.56" text-anchor="end" stroke="#000">40</text>
<line x1="384.20" y1="878.44" x2="388.70" y2="878.44" stroke="#1a1a1a" stroke-width="1.4"/>
<text x="378.10" y="881.94" text-anchor="end" stroke="#000">60</text>
<line x1="384.20" y1="852.82" x2="388.70" y2="852.82" stroke="#1a1a1a" stroke-width="1.4"/>
<text x="375.50" y="854.82" text-anchor="end" stroke="#000">80</text>
<line x1="388.00" y1="955.30" x2="440.30" y2="955.30" stroke="#1a1a1a" stroke-width="1.4"/>
<line x1="403.30" y1="955.30" x2="403.30" y2="958.80" stroke="#1a1a1a" stroke-width="1.4"/>
<line x1="425.30" y1="955.30" x2="425.30" y2="958.80" stroke="#1a1a1a" stroke-width="1.4"/>
<text x="399.70" y="858.30" stroke="#000">P &lt; 0.0001</text>
<line x1="392.00" y1="863.50" x2="432.00" y2="863.50" stroke="#333" stroke-width="0.9"/>
<text x="0" y="0" text-anchor="middle" stroke="#000" transform="translate(359.00,903.30) rotate(-90)">LDH release (%)</text>
<text x="405.50" y="969.80" text-anchor="middle" stroke="#000">+</text>
<text x="426.40" y="970.20" text-anchor="middle" stroke="#000">-</text>
<text x="472.30" y="827.50" stroke="#000" font-weight="bold" font-size="15">i</text>
<text x="551.50" y="829.50" stroke="#000">TIOs + 4T1+ pulsed light</text>
<line x1="497.00" y1="834.50" x2="714.70" y2="834.50" stroke="#888" stroke-width="1.0"/>
<text x="496.60" y="849.00" fill="#2a7cff" stroke="#2a7cff">Ratio: TIOs / 4T1 = 1/3</text>
<text x="617.80" y="849.10" fill="#2a7cff" stroke="#2a7cff">Ratio: TIOs / 4T1 = 1/5</text>
<rect x="514.15" y="941.53" width="11.80" height="14.97" fill="#fff" stroke="#1a1a1a" stroke-width="1.3"/>
<circle cx="517.05" cy="941.53" r="1.7" fill="#1a1a1a"/>
<circle cx="520.05" cy="940.28" r="1.7" fill="#1a1a1a"/>
<circle cx="523.05" cy="941.53" r="1.7" fill="#1a1a1a"/>
<rect x="534.25" y="903.48" width="11.70" height="53.02" fill="#fff" stroke="#1a1a1a" stroke-width="1.3"/>
<circle cx="537.10" cy="904.11" r="1.7" fill="#1a1a1a"/>
<circle cx="540.10" cy="902.86" r="1.7" fill="#1a1a1a"/>
<circle cx="543.10" cy="904.11" r="1.7" fill="#1a1a1a"/>
<rect x="555.05" y="876.04" width="11.40" height="80.46" fill="#fff" stroke="#1a1a1a" stroke-width="1.3"/>
<circle cx="557.75" cy="876.04" r="1.7" fill="#1a1a1a"/>
<circle cx="560.75" cy="875.41" r="1.7" fill="#1a1a1a"/>
<circle cx="563.75" cy="876.04" r="1.7" fill="#1a1a1a"/>
<rect x="574.55" y="875.79" width="12.30" height="80.71" fill="#fff" stroke="#1a1a1a" stroke-width="1.3"/>
<circle cx="577.70" cy="876.04" r="1.7" fill="#1a1a1a"/>
<circle cx="580.70" cy="875.16" r="1.7" fill="#1a1a1a"/>
<circle cx="583.70" cy="875.79" r="1.7" fill="#1a1a1a"/>
<line x1="506.70" y1="856.00" x2="506.70" y2="957.20" stroke="#1a1a1a" stroke-width="1.4"/>
<line x1="501.20" y1="956.50" x2="506.70" y2="956.50" stroke="#1a1a1a" stroke-width="1.4"/>
<text x="495.20" y="960.00" text-anchor="end" stroke="#000">0</text>
<line x1="501.20" y1="931.55" x2="506.70" y2="931.55" stroke="#1a1a1a" stroke-width="1.4"/>
<text x="494.00" y="935.05" text-anchor="end" stroke="#000">20</text>
<line x1="501.20" y1="906.60" x2="506.70" y2="906.60" stroke="#1a1a1a" stroke-width="1.4"/>
<text x="493.40" y="910.10" text-anchor="end" stroke="#000">40</text>
<line x1="501.20" y1="881.65" x2="506.70" y2="881.65" stroke="#1a1a1a" stroke-width="1.4"/>
<text x="494.00" y="885.15" text-anchor="end" stroke="#000">60</text>
<line x1="501.20" y1="856.70" x2="506.70" y2="856.70" stroke="#1a1a1a" stroke-width="1.4"/>
<text x="493.40" y="860.20" text-anchor="end" stroke="#000">80</text>
<line x1="506.00" y1="956.50" x2="594.30" y2="956.50" stroke="#1a1a1a" stroke-width="1.4"/>
<line x1="520.00" y1="956.50" x2="520.00" y2="960.50" stroke="#1a1a1a" stroke-width="1.4"/>
<line x1="540.10" y1="956.50" x2="540.10" y2="960.50" stroke="#1a1a1a" stroke-width="1.4"/>
<line x1="560.70" y1="956.50" x2="560.70" y2="960.50" stroke="#1a1a1a" stroke-width="1.4"/>
<line x1="580.70" y1="956.50" x2="580.70" y2="960.50" stroke="#1a1a1a" stroke-width="1.4"/>
<text x="480.40" y="970.60" stroke="#000">cycle</text>
<text x="519.40" y="970.60" text-anchor="middle" stroke="#000">1</text>
<text x="539.80" y="970.60" text-anchor="middle" stroke="#000">2</text>
<text x="559.30" y="970.60" text-anchor="middle" stroke="#000">3</text>
<text x="578.40" y="970.60" text-anchor="middle" stroke="#000">4</text>
<path d="M515.9 922 V854.4 H582.3 V870.4" fill="none" stroke="#8a8a8a" stroke-width="0.9"/>
<line x1="536.50" y1="854.40" x2="536.50" y2="895.70" stroke="#8a8a8a" stroke-width="0.9"/>
<line x1="555.40" y1="863.50" x2="582.30" y2="863.50" stroke="#8a8a8a" stroke-width="0.9"/>
<line x1="545.70" y1="902.50" x2="551.50" y2="902.50" stroke="#8a8a8a" stroke-width="0.9"/>
<text x="0" y="0" text-anchor="middle" stroke="#000" transform="translate(529.70,891.20) rotate(-90)">P &lt; 0.0001</text>
<text x="0" y="0" text-anchor="middle" stroke="#000" transform="translate(552.70,879.40) rotate(-90)">P &lt; 0.0001</text>
<text x="0" y="0" text-anchor="middle" stroke="#000" transform="translate(597.80,875.80) rotate(-90)">P = 0.731</text>
<text x="0" y="0" text-anchor="middle" stroke="#000" transform="translate(471.60,901.00) rotate(-90)">LDH release rate (%)</text>
<rect x="631.55" y="951.88" width="11.60" height="4.32" fill="#fff" stroke="#1a1a1a" stroke-width="1.3"/>
<circle cx="634.35" cy="952.50" r="1.7" fill="#1a1a1a"/>
<circle cx="637.35" cy="951.27" r="1.7" fill="#1a1a1a"/>
<circle cx="640.35" cy="952.50" r="1.7" fill="#1a1a1a"/>
<rect x="651.65" y="931.53" width="11.60" height="24.67" fill="#fff" stroke="#1a1a1a" stroke-width="1.3"/>
<circle cx="654.45" cy="932.14" r="1.7" fill="#1a1a1a"/>
<circle cx="657.45" cy="930.91" r="1.7" fill="#1a1a1a"/>
<circle cx="660.45" cy="930.91" r="1.7" fill="#1a1a1a"/>
<rect x="671.95" y="906.85" width="11.00" height="49.35" fill="#fff" stroke="#1a1a1a" stroke-width="1.3"/>
<circle cx="677.45" cy="911.79" r="1.7" fill="#1a1a1a"/>
<circle cx="677.45" cy="906.85" r="1.7" fill="#1a1a1a"/>
<circle cx="677.45" cy="901.92" r="1.7" fill="#1a1a1a"/>
<rect x="692.05" y="885.88" width="11.20" height="70.32" fill="#fff" stroke="#1a1a1a" stroke-width="1.3"/>
<circle cx="694.65" cy="885.88" r="1.7" fill="#1a1a1a"/>
<circle cx="697.65" cy="884.65" r="1.7" fill="#1a1a1a"/>
<circle cx="700.65" cy="885.88" r="1.7" fill="#1a1a1a"/>
<line x1="624.10" y1="856.80" x2="624.10" y2="956.90" stroke="#1a1a1a" stroke-width="1.4"/>
<line x1="619.60" y1="956.20" x2="624.10" y2="956.20" stroke="#1a1a1a" stroke-width="1.4"/>
<line x1="619.60" y1="931.53" x2="624.10" y2="931.53" stroke="#1a1a1a" stroke-width="1.4"/>
<line x1="619.60" y1="906.85" x2="624.10" y2="906.85" stroke="#1a1a1a" stroke-width="1.4"/>
<line x1="619.60" y1="882.18" x2="624.10" y2="882.18" stroke="#1a1a1a" stroke-width="1.4"/>
<line x1="619.60" y1="857.50" x2="624.10" y2="857.50" stroke="#1a1a1a" stroke-width="1.4"/>
<line x1="618.30" y1="956.20" x2="712.00" y2="956.20" stroke="#1a1a1a" stroke-width="1.4"/>
<line x1="637.30" y1="956.20" x2="637.30" y2="960.20" stroke="#1a1a1a" stroke-width="1.4"/>
<line x1="657.40" y1="956.20" x2="657.40" y2="960.20" stroke="#1a1a1a" stroke-width="1.4"/>
<line x1="677.40" y1="956.20" x2="677.40" y2="960.20" stroke="#1a1a1a" stroke-width="1.4"/>
<line x1="697.60" y1="956.20" x2="697.60" y2="960.20" stroke="#1a1a1a" stroke-width="1.4"/>
<text x="637.00" y="969.70" text-anchor="middle" stroke="#000">1</text>
<text x="657.30" y="969.70" text-anchor="middle" stroke="#000">2</text>
<text x="677.40" y="969.70" text-anchor="middle" stroke="#000">3</text>
<text x="696.20" y="969.70" text-anchor="middle" stroke="#000">4</text>
<path d="M630.4 932 V864.2 H697.3 V880" fill="none" stroke="#8a8a8a" stroke-width="0.9"/>
<line x1="650.50" y1="864.20" x2="650.50" y2="906.30" stroke="#8a8a8a" stroke-width="0.9"/>
<line x1="670.70" y1="873.50" x2="697.30" y2="873.50" stroke="#8a8a8a" stroke-width="0.9"/>
<text x="0" y="0" text-anchor="middle" stroke="#000" transform="translate(642.80,895.60) rotate(-90)">P &lt; 0.0001</text>
<text x="0" y="0" text-anchor="middle" stroke="#000" transform="translate(662.50,895.60) rotate(-90)">P &lt; 0.0001</text>
<text x="0" y="0" text-anchor="middle" stroke="#000" transform="translate(715.50,884.70) rotate(-90)">P = 0.0007</text>
<text x="560.40" y="988.60" stroke="#000">10 minutes per cycle</text>
</svg>
</body></html>
